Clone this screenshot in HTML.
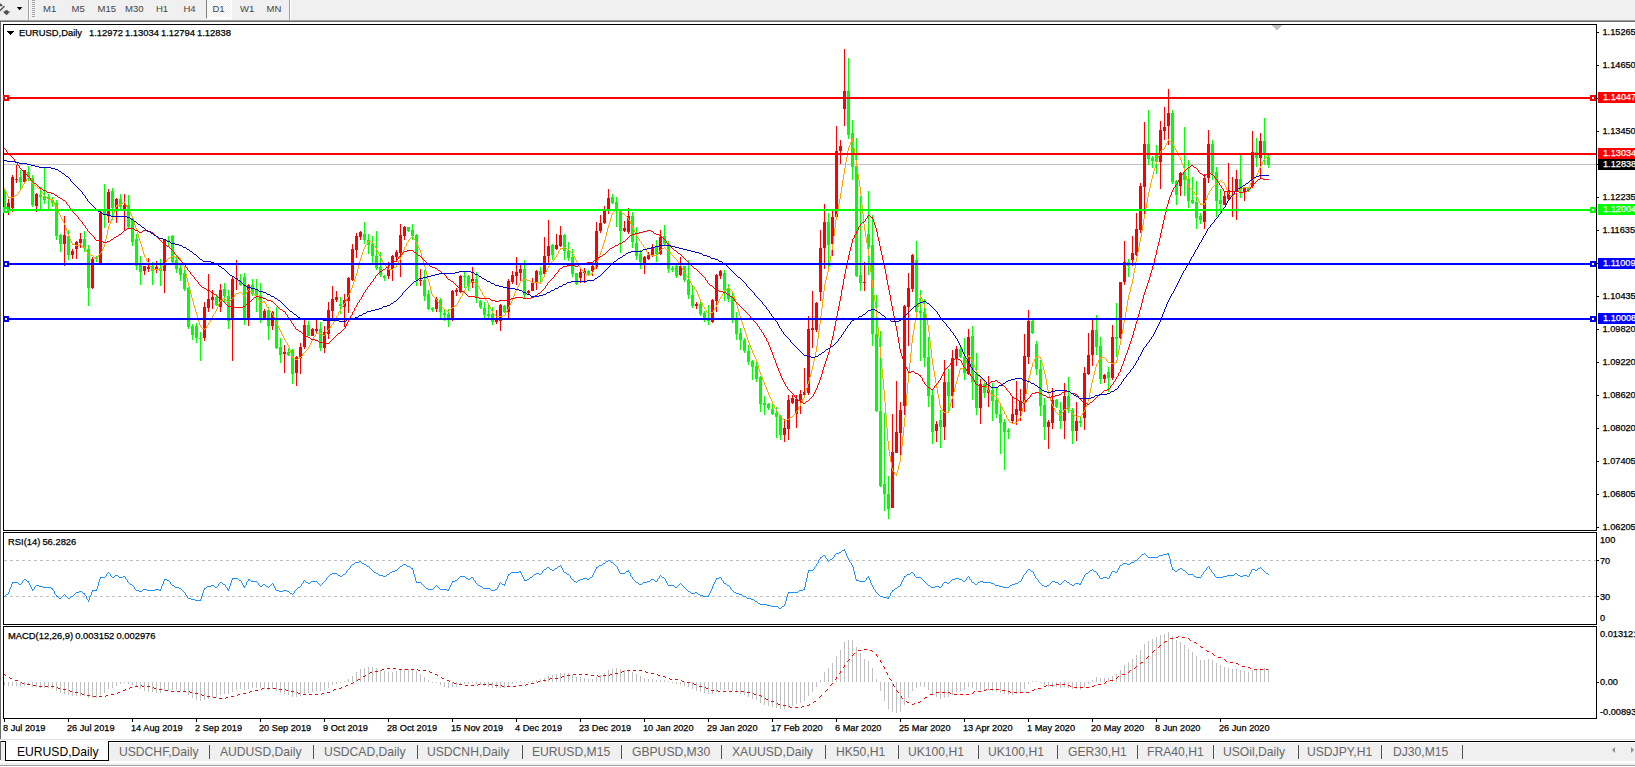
<!DOCTYPE html>
<html><head><meta charset="utf-8"><title>EURUSD,Daily</title>
<style>
html,body{margin:0;padding:0;background:#fff;}
body{width:1635px;height:767px;position:relative;overflow:hidden;font-family:"Liberation Sans","DejaVu Sans",sans-serif;}
#tbar{position:absolute;left:0;top:0;width:1635px;height:20px;background:#f0f0f0;border-bottom:1px solid #a0a0a0;}
#tbar2{position:absolute;left:0;top:21px;width:1635px;height:1px;background:#696969;}
#lb{position:absolute;left:0;top:22px;width:1px;height:717px;background:#696969;}
.tf{position:absolute;top:1.6px;font-size:9.5px;line-height:13px;color:#444;white-space:nowrap;}
#d1{position:absolute;left:206px;top:0;width:24px;height:18px;background:repeating-conic-gradient(#fff 0 25%,#f0f0f0 0 50%) 0 0/2px 2px;border-left:1px solid #808080;border-right:1px solid #fff;border-bottom:1px solid #fff;}
.vs{position:absolute;top:0;width:1px;height:20px;background:#a0a0a0;border-right:1px solid #fff;}
#grip{position:absolute;left:32px;top:0;width:3px;height:17px;background:repeating-linear-gradient(#a0a0a0 0 1px,#fafafa 1px 2px);}
svg{position:absolute;left:0;top:0;}
.ax,.bx{position:absolute;left:1602.5px;-webkit-text-stroke:0.25px currentColor;font-size:9.2px;line-height:14px;height:14px;white-space:nowrap;color:#000;}
.bx{left:1598px;width:37px;padding-left:5px;box-sizing:border-box;height:11px;line-height:11px;overflow:hidden;}
.dt{position:absolute;top:722px;-webkit-text-stroke:0.25px #000;font-size:9.2px;line-height:13px;white-space:nowrap;color:#000;}
.ct{position:absolute;word-spacing:-0.5px;-webkit-text-stroke:0.25px #000;font-size:9.4px;line-height:13px;white-space:nowrap;color:#000;}
#tabs{position:absolute;left:0;top:741px;width:1635px;height:20px;background:#f0f0f0;border-top:1px solid #000;box-sizing:border-box;box-shadow:inset 0 1px 0 #fff;}
#tabline{position:absolute;left:0;top:739px;width:1635px;height:1px;background:#e0e0e0;}
#botline{position:absolute;left:0;top:765px;width:1635px;height:1px;background:#a0a0a0;}
#bot{position:absolute;left:0;top:763px;width:1635px;height:2px;background:#f0f0f0;}
#lb2{position:absolute;left:0;top:741px;width:1px;height:19px;background:#696969;}
#atab{position:absolute;left:5px;top:-1px;width:104px;height:20px;background:#fff;border:1px solid #000;border-top:none;box-sizing:border-box;}
.tb{position:absolute;top:1.5px;font-size:12.8px;transform:scaleX(0.948);transform-origin:0 0;line-height:15px;color:#666;white-space:nowrap;}
#atab span{position:absolute;left:11px;top:2.5px;font-size:12.8px;transform:scaleX(0.948);transform-origin:0 0;line-height:15px;color:#000;white-space:nowrap;}
.sp{position:absolute;top:3px;width:1px;height:14px;background:#555;}
.ar{position:absolute;top:5px;width:0;height:0;border:3px solid transparent;}
</style></head><body>
<div id="tbar"><div class="vs" style="left:28px"></div><div id="grip"></div><div id="d1"></div><span class="tf" style="left:43px">M1</span><span class="tf" style="left:71.5px">M5</span><span class="tf" style="left:97.5px">M15</span><span class="tf" style="left:125px">M30</span><span class="tf" style="left:156px">H1</span><span class="tf" style="left:183.5px">H4</span><span class="tf" style="left:212.5px">D1</span><span class="tf" style="left:240px">W1</span><span class="tf" style="left:266.5px">MN</span><div class="vs" style="left:289px"></div>
<svg width="28" height="20" viewBox="0 0 28 20"><path d="M-1 11.5L4.5 6.3" stroke="#505050" stroke-width="1.4" fill="none"/><path d="M0 3.2L2.9 5.3L1.4 6.5L0 6z" fill="#505050"/><path d="M5.3 10.2h2.4l.6 1.2h2l-3.8 3.8l-3.8 -3.8h2z" fill="#505050"/><path d="M16.8 7h5.6l-2.8 3.2z" fill="#000"/></svg></div>
<div id="tbar2"></div><div id="lb"></div>
<svg width="1635" height="767" viewBox="0 0 1635 767" shape-rendering="crispEdges">
<rect x="4" y="164" width="1592" height="1" fill="#c0c0c0"/>
<g><path fill="#00ff00" d="M4 189h1v22h-1zM4 192h2v17h-2z"/><path fill="#ff0000" d="M8 199h1v16h-1zM7 203h3v6h-3z"/><path fill="#ff0000" d="M12 175h1v37h-1zM11 177h3v31h-3z"/><path fill="#ff0000" d="M16 165h1v18h-1zM15 179h3v1h-3z"/><path fill="#00ff00" d="M20 170h1v19h-1zM19 177h3v5h-3z"/><path fill="#ff0000" d="M24 170h1v13h-1zM23 170h3v12h-3z"/><path fill="#00ff00" d="M28 166h1v15h-1zM27 172h3v5h-3z"/><path fill="#00ff00" d="M32 175h1v32h-1zM31 178h3v27h-3z"/><path fill="#ff0000" d="M36 193h1v19h-1zM35 194h3v12h-3z"/><path fill="#00ff00" d="M40 187h1v22h-1zM39 195h3v2h-3z"/><path fill="#00ff00" d="M44 167h1v37h-1zM43 196h3v4h-3z"/><path fill="#00ff00" d="M48 194h1v15h-1zM47 197h3v2h-3z"/><path fill="#00ff00" d="M52 197h1v10h-1zM51 200h3v3h-3z"/><path fill="#00ff00" d="M56 200h1v40h-1zM55 203h3v33h-3z"/><path fill="#00ff00" d="M60 234h1v18h-1zM59 235h3v9h-3z"/><path fill="#ff0000" d="M64 216h1v50h-1zM63 235h3v9h-3z"/><path fill="#00ff00" d="M68 230h1v30h-1zM67 236h3v19h-3z"/><path fill="#ff0000" d="M72 249h1v10h-1zM71 251h3v4h-3z"/><path fill="#ff0000" d="M76 241h1v18h-1zM75 242h3v7h-3z"/><path fill="#ff0000" d="M80 233h1v15h-1zM79 239h3v4h-3z"/><path fill="#00ff00" d="M84 231h1v21h-1zM83 239h3v9h-3z"/><path fill="#00ff00" d="M88 245h1v61h-1zM87 249h3v39h-3z"/><path fill="#ff0000" d="M92 257h1v32h-1zM91 259h3v29h-3z"/><path fill="#00ff00" d="M96 256h1v6h-1zM95 257h3v2h-3z"/><path fill="#ff0000" d="M100 211h1v53h-1zM99 213h3v51h-3z"/><path fill="#00ff00" d="M104 184h1v44h-1zM103 209h3v5h-3z"/><path fill="#ff0000" d="M108 189h1v34h-1zM107 192h3v24h-3z"/><path fill="#00ff00" d="M112 188h1v32h-1zM111 191h3v17h-3z"/><path fill="#ff0000" d="M116 198h1v25h-1zM115 199h3v10h-3z"/><path fill="#00ff00" d="M120 194h1v15h-1zM119 199h3v8h-3z"/><path fill="#ff0000" d="M124 194h1v36h-1zM123 205h3v4h-3z"/><path fill="#00ff00" d="M128 195h1v33h-1zM127 205h3v22h-3z"/><path fill="#00ff00" d="M132 216h1v30h-1zM131 218h3v24h-3z"/><path fill="#00ff00" d="M136 234h1v36h-1zM135 239h3v27h-3z"/><path fill="#00ff00" d="M140 256h1v29h-1zM139 264h3v8h-3z"/><path fill="#ff0000" d="M144 266h1v9h-1zM143 266h3v5h-3z"/><path fill="#ff0000" d="M148 258h1v14h-1zM147 267h3v2h-3z"/><path fill="#00ff00" d="M152 262h1v23h-1zM151 266h3v5h-3z"/><path fill="#ff0000" d="M156 261h1v12h-1zM155 267h3v3h-3z"/><path fill="#00ff00" d="M160 259h1v27h-1zM159 268h3v3h-3z"/><path fill="#ff0000" d="M164 239h1v54h-1zM163 240h3v31h-3z"/><path fill="#00ff00" d="M168 236h1v11h-1zM167 240h3v2h-3z"/><path fill="#00ff00" d="M172 235h1v29h-1zM171 236h3v26h-3z"/><path fill="#00ff00" d="M176 256h1v17h-1zM175 260h3v9h-3z"/><path fill="#00ff00" d="M180 264h1v17h-1zM179 268h3v7h-3z"/><path fill="#00ff00" d="M184 266h1v25h-1zM183 273h3v16h-3z"/><path fill="#00ff00" d="M188 287h1v42h-1zM187 288h3v39h-3z"/><path fill="#00ff00" d="M192 324h1v16h-1zM191 326h3v9h-3z"/><path fill="#00ff00" d="M196 323h1v20h-1zM195 326h3v12h-3z"/><path fill="#00ff00" d="M200 332h1v29h-1zM199 338h3v1h-3z"/><path fill="#ff0000" d="M204 302h1v39h-1zM203 307h3v31h-3z"/><path fill="#ff0000" d="M208 274h1v38h-1zM207 299h3v9h-3z"/><path fill="#ff0000" d="M212 290h1v19h-1zM211 297h3v3h-3z"/><path fill="#00ff00" d="M216 294h1v12h-1zM215 297h3v8h-3z"/><path fill="#ff0000" d="M220 284h1v28h-1zM219 290h3v17h-3z"/><path fill="#00ff00" d="M224 283h1v19h-1zM223 289h3v7h-3z"/><path fill="#00ff00" d="M228 290h1v39h-1zM227 296h3v25h-3z"/><path fill="#ff0000" d="M232 277h1v84h-1zM231 279h3v41h-3z"/><path fill="#ff0000" d="M236 260h1v30h-1zM235 278h3v1h-3z"/><path fill="#00ff00" d="M240 274h1v12h-1zM239 281h3v4h-3z"/><path fill="#00ff00" d="M244 273h1v52h-1zM243 277h3v41h-3z"/><path fill="#ff0000" d="M248 284h1v42h-1zM247 285h3v33h-3z"/><path fill="#00ff00" d="M252 279h1v17h-1zM251 285h3v9h-3z"/><path fill="#00ff00" d="M256 279h1v33h-1zM255 290h3v6h-3z"/><path fill="#00ff00" d="M260 283h1v40h-1zM259 295h3v23h-3z"/><path fill="#ff0000" d="M264 309h1v10h-1zM263 311h3v7h-3z"/><path fill="#00ff00" d="M268 307h1v33h-1zM267 310h3v16h-3z"/><path fill="#ff0000" d="M272 311h1v19h-1zM271 312h3v14h-3z"/><path fill="#00ff00" d="M276 307h1v42h-1zM275 321h3v27h-3z"/><path fill="#00ff00" d="M280 338h1v25h-1zM279 347h3v8h-3z"/><path fill="#ff0000" d="M284 345h1v28h-1zM283 352h3v2h-3z"/><path fill="#00ff00" d="M288 348h1v8h-1zM287 352h3v3h-3z"/><path fill="#00ff00" d="M292 349h1v35h-1zM291 350h3v24h-3z"/><path fill="#ff0000" d="M296 356h1v30h-1zM295 357h3v16h-3z"/><path fill="#ff0000" d="M300 343h1v31h-1zM299 347h3v11h-3z"/><path fill="#ff0000" d="M304 320h1v29h-1zM303 325h3v22h-3z"/><path fill="#00ff00" d="M308 321h1v15h-1zM307 325h3v11h-3z"/><path fill="#ff0000" d="M312 328h1v8h-1zM311 329h3v7h-3z"/><path fill="#ff0000" d="M316 320h1v13h-1zM315 329h3v2h-3z"/><path fill="#00ff00" d="M320 322h1v29h-1zM319 329h3v19h-3z"/><path fill="#ff0000" d="M324 326h1v27h-1zM323 332h3v16h-3z"/><path fill="#ff0000" d="M328 302h1v37h-1zM327 310h3v24h-3z"/><path fill="#ff0000" d="M332 286h1v32h-1zM331 299h3v12h-3z"/><path fill="#ff0000" d="M336 291h1v11h-1zM335 297h3v3h-3z"/><path fill="#00ff00" d="M340 297h1v17h-1zM339 304h3v2h-3z"/><path fill="#ff0000" d="M344 294h1v33h-1zM343 300h3v7h-3z"/><path fill="#ff0000" d="M348 277h1v36h-1zM347 278h3v23h-3z"/><path fill="#ff0000" d="M352 244h1v37h-1zM351 249h3v31h-3z"/><path fill="#ff0000" d="M356 233h1v25h-1zM355 236h3v14h-3z"/><path fill="#ff0000" d="M360 231h1v9h-1zM359 232h3v5h-3z"/><path fill="#00ff00" d="M364 222h1v22h-1zM363 234h3v6h-3z"/><path fill="#00ff00" d="M368 234h1v20h-1zM367 240h3v5h-3z"/><path fill="#00ff00" d="M372 236h1v27h-1zM371 244h3v12h-3z"/><path fill="#00ff00" d="M376 231h1v39h-1zM375 256h3v12h-3z"/><path fill="#00ff00" d="M380 252h1v25h-1zM379 267h3v8h-3z"/><path fill="#00ff00" d="M384 275h1v6h-1zM383 276h3v2h-3z"/><path fill="#ff0000" d="M388 262h1v17h-1zM387 269h3v7h-3z"/><path fill="#ff0000" d="M392 255h1v26h-1zM391 256h3v13h-3z"/><path fill="#ff0000" d="M396 250h1v12h-1zM395 252h3v5h-3z"/><path fill="#ff0000" d="M400 224h1v53h-1zM399 235h3v18h-3z"/><path fill="#ff0000" d="M404 226h1v14h-1zM403 227h3v9h-3z"/><path fill="#00ff00" d="M408 227h1v5h-1zM407 227h3v4h-3z"/><path fill="#00ff00" d="M412 224h1v16h-1zM411 230h3v6h-3z"/><path fill="#00ff00" d="M416 234h1v52h-1zM415 235h3v45h-3z"/><path fill="#ff0000" d="M420 269h1v17h-1zM419 280h3v1h-3z"/><path fill="#00ff00" d="M424 270h1v31h-1zM423 280h3v16h-3z"/><path fill="#00ff00" d="M428 290h1v20h-1zM427 294h3v15h-3z"/><path fill="#00ff00" d="M432 307h1v5h-1zM431 308h3v2h-3z"/><path fill="#ff0000" d="M436 297h1v15h-1zM435 299h3v10h-3z"/><path fill="#00ff00" d="M440 298h1v20h-1zM439 300h3v12h-3z"/><path fill="#00ff00" d="M444 309h1v12h-1zM443 313h3v2h-3z"/><path fill="#00ff00" d="M448 309h1v18h-1zM447 314h3v4h-3z"/><path fill="#ff0000" d="M452 290h1v31h-1zM451 291h3v27h-3z"/><path fill="#ff0000" d="M456 288h1v8h-1zM455 290h3v2h-3z"/><path fill="#ff0000" d="M460 275h1v18h-1zM459 276h3v16h-3z"/><path fill="#00ff00" d="M464 272h1v16h-1zM463 276h3v1h-3z"/><path fill="#00ff00" d="M468 275h1v16h-1zM467 276h3v10h-3z"/><path fill="#ff0000" d="M472 267h1v21h-1zM471 279h3v4h-3z"/><path fill="#00ff00" d="M476 272h1v31h-1zM475 279h3v19h-3z"/><path fill="#00ff00" d="M480 300h1v9h-1zM479 301h3v6h-3z"/><path fill="#00ff00" d="M484 302h1v16h-1zM483 308h3v7h-3z"/><path fill="#00ff00" d="M488 303h1v15h-1zM487 314h3v2h-3z"/><path fill="#00ff00" d="M492 307h1v18h-1zM491 314h3v8h-3z"/><path fill="#ff0000" d="M496 310h1v14h-1zM495 320h3v2h-3z"/><path fill="#ff0000" d="M500 304h1v27h-1zM499 305h3v16h-3z"/><path fill="#00ff00" d="M504 305h1v8h-1zM503 306h3v6h-3z"/><path fill="#ff0000" d="M508 279h1v39h-1zM507 281h3v31h-3z"/><path fill="#ff0000" d="M512 271h1v13h-1zM511 275h3v7h-3z"/><path fill="#ff0000" d="M516 257h1v28h-1zM515 272h3v4h-3z"/><path fill="#ff0000" d="M520 265h1v16h-1zM519 269h3v4h-3z"/><path fill="#00ff00" d="M524 260h1v38h-1zM523 269h3v26h-3z"/><path fill="#ff0000" d="M528 290h1v4h-1zM527 291h3v2h-3z"/><path fill="#ff0000" d="M532 278h1v13h-1zM531 282h3v9h-3z"/><path fill="#ff0000" d="M536 270h1v20h-1zM535 271h3v11h-3z"/><path fill="#00ff00" d="M540 267h1v16h-1zM539 271h3v4h-3z"/><path fill="#ff0000" d="M544 237h1v38h-1zM543 256h3v18h-3z"/><path fill="#ff0000" d="M548 220h1v43h-1zM547 246h3v10h-3z"/><path fill="#00ff00" d="M552 244h1v16h-1zM551 245h3v10h-3z"/><path fill="#ff0000" d="M556 234h1v16h-1zM555 245h3v4h-3z"/><path fill="#ff0000" d="M560 226h1v21h-1zM559 235h3v11h-3z"/><path fill="#00ff00" d="M564 234h1v26h-1zM563 235h3v16h-3z"/><path fill="#00ff00" d="M568 242h1v19h-1zM567 251h3v7h-3z"/><path fill="#00ff00" d="M572 249h1v28h-1zM571 257h3v17h-3z"/><path fill="#00ff00" d="M576 273h1v12h-1zM575 273h3v11h-3z"/><path fill="#ff0000" d="M580 267h1v16h-1zM579 272h3v6h-3z"/><path fill="#ff0000" d="M584 268h1v15h-1zM583 271h3v2h-3z"/><path fill="#00ff00" d="M588 270h1v6h-1zM587 271h3v3h-3z"/><path fill="#ff0000" d="M592 265h1v11h-1zM591 266h3v5h-3z"/><path fill="#ff0000" d="M596 222h1v47h-1zM595 231h3v36h-3z"/><path fill="#ff0000" d="M600 215h1v18h-1zM599 223h3v8h-3z"/><path fill="#ff0000" d="M604 206h1v18h-1zM603 211h3v12h-3z"/><path fill="#ff0000" d="M608 189h1v25h-1zM607 198h3v12h-3z"/><path fill="#00ff00" d="M612 194h1v10h-1zM611 197h3v6h-3z"/><path fill="#00ff00" d="M616 197h1v30h-1zM615 202h3v9h-3z"/><path fill="#00ff00" d="M620 209h1v44h-1zM619 211h3v20h-3z"/><path fill="#ff0000" d="M624 221h1v11h-1zM623 228h3v3h-3z"/><path fill="#ff0000" d="M628 208h1v26h-1zM627 216h3v16h-3z"/><path fill="#00ff00" d="M632 212h1v36h-1zM631 216h3v26h-3z"/><path fill="#00ff00" d="M636 227h1v33h-1zM635 243h3v13h-3z"/><path fill="#00ff00" d="M640 250h1v19h-1zM639 254h3v8h-3z"/><path fill="#ff0000" d="M644 256h1v18h-1zM643 257h3v6h-3z"/><path fill="#ff0000" d="M648 252h1v8h-1zM647 255h3v4h-3z"/><path fill="#ff0000" d="M652 244h1v13h-1zM651 247h3v9h-3z"/><path fill="#00ff00" d="M656 240h1v22h-1zM655 246h3v8h-3z"/><path fill="#ff0000" d="M660 230h1v25h-1zM659 237h3v17h-3z"/><path fill="#00ff00" d="M664 225h1v20h-1zM663 236h3v8h-3z"/><path fill="#00ff00" d="M668 241h1v32h-1zM667 244h3v25h-3z"/><path fill="#00ff00" d="M672 266h1v6h-1zM671 268h3v2h-3z"/><path fill="#00ff00" d="M676 264h1v14h-1zM675 266h3v10h-3z"/><path fill="#ff0000" d="M680 257h1v19h-1zM679 266h3v9h-3z"/><path fill="#00ff00" d="M684 266h1v16h-1zM683 266h3v14h-3z"/><path fill="#00ff00" d="M688 260h1v39h-1zM687 280h3v15h-3z"/><path fill="#00ff00" d="M692 285h1v23h-1zM691 295h3v11h-3z"/><path fill="#ff0000" d="M696 302h1v7h-1zM695 304h3v2h-3z"/><path fill="#00ff00" d="M700 300h1v16h-1zM699 304h3v10h-3z"/><path fill="#00ff00" d="M704 311h1v11h-1zM703 313h3v7h-3z"/><path fill="#00ff00" d="M708 305h1v20h-1zM707 318h3v3h-3z"/><path fill="#ff0000" d="M712 299h1v24h-1zM711 300h3v22h-3z"/><path fill="#ff0000" d="M716 274h1v38h-1zM715 275h3v26h-3z"/><path fill="#ff0000" d="M720 270h1v9h-1zM719 271h3v5h-3z"/><path fill="#00ff00" d="M724 270h1v31h-1zM723 273h3v17h-3z"/><path fill="#00ff00" d="M728 284h1v18h-1zM727 288h3v11h-3z"/><path fill="#00ff00" d="M732 292h1v31h-1zM731 297h3v22h-3z"/><path fill="#00ff00" d="M736 312h1v28h-1zM735 318h3v16h-3z"/><path fill="#00ff00" d="M740 328h1v22h-1zM739 333h3v7h-3z"/><path fill="#00ff00" d="M744 338h1v15h-1zM743 340h3v11h-3z"/><path fill="#00ff00" d="M748 345h1v20h-1zM747 351h3v11h-3z"/><path fill="#00ff00" d="M752 360h1v20h-1zM751 361h3v6h-3z"/><path fill="#00ff00" d="M756 360h1v22h-1zM755 366h3v13h-3z"/><path fill="#00ff00" d="M760 376h1v36h-1zM759 377h3v27h-3z"/><path fill="#00ff00" d="M764 396h1v19h-1zM763 403h3v2h-3z"/><path fill="#00ff00" d="M768 403h1v7h-1zM767 404h3v4h-3z"/><path fill="#00ff00" d="M772 403h1v12h-1zM771 409h3v5h-3z"/><path fill="#00ff00" d="M776 407h1v31h-1zM775 413h3v4h-3z"/><path fill="#00ff00" d="M780 415h1v25h-1zM779 416h3v19h-3z"/><path fill="#ff0000" d="M784 419h1v23h-1zM783 428h3v7h-3z"/><path fill="#ff0000" d="M788 395h1v45h-1zM787 400h3v29h-3z"/><path fill="#ff0000" d="M792 395h1v9h-1zM791 398h3v5h-3z"/><path fill="#ff0000" d="M796 395h1v33h-1zM795 399h3v15h-3z"/><path fill="#ff0000" d="M800 390h1v24h-1zM799 394h3v6h-3z"/><path fill="#ff0000" d="M804 368h1v29h-1zM803 392h3v3h-3z"/><path fill="#ff0000" d="M808 316h1v79h-1zM807 329h3v64h-3z"/><path fill="#ff0000" d="M812 291h1v57h-1zM811 328h3v2h-3z"/><path fill="#ff0000" d="M816 302h1v30h-1zM815 303h3v27h-3z"/><path fill="#ff0000" d="M820 230h1v71h-1zM819 248h3v44h-3z"/><path fill="#ff0000" d="M824 204h1v65h-1zM823 222h3v26h-3z"/><path fill="#00ff00" d="M828 213h1v54h-1zM827 222h3v23h-3z"/><path fill="#ff0000" d="M832 211h1v45h-1zM831 217h3v27h-3z"/><path fill="#ff0000" d="M836 126h1v92h-1zM835 151h3v66h-3z"/><path fill="#ff0000" d="M840 140h1v24h-1zM839 146h3v5h-3z"/><path fill="#ff0000" d="M844 49h1v77h-1zM843 91h3v18h-3z"/><path fill="#00ff00" d="M848 58h1v81h-1zM847 91h3v44h-3z"/><path fill="#00ff00" d="M852 120h1v60h-1zM851 133h3v34h-3z"/><path fill="#00ff00" d="M856 138h1v139h-1zM855 166h3v110h-3z"/><path fill="#00ff00" d="M860 196h1v95h-1zM859 275h3v8h-3z"/><path fill="#ff0000" d="M864 262h1v29h-1zM863 282h3v1h-3z"/><path fill="#00ff00" d="M868 191h1v84h-1zM867 234h3v13h-3z"/><path fill="#00ff00" d="M872 215h1v131h-1zM871 245h3v89h-3z"/><path fill="#00ff00" d="M876 295h1v117h-1zM875 334h3v77h-3z"/><path fill="#00ff00" d="M880 331h1v156h-1zM879 411h3v75h-3z"/><path fill="#00ff00" d="M884 413h1v98h-1zM883 484h3v10h-3z"/><path fill="#00ff00" d="M888 476h1v43h-1zM887 494h3v15h-3z"/><path fill="#ff0000" d="M892 414h1v94h-1zM891 452h3v56h-3z"/><path fill="#ff0000" d="M896 381h1v72h-1zM895 432h3v21h-3z"/><path fill="#ff0000" d="M900 402h1v53h-1zM899 410h3v23h-3z"/><path fill="#ff0000" d="M904 305h1v110h-1zM903 306h3v100h-3z"/><path fill="#ff0000" d="M908 273h1v73h-1zM907 288h3v19h-3z"/><path fill="#ff0000" d="M912 254h1v38h-1zM911 255h3v34h-3z"/><path fill="#00ff00" d="M916 241h1v71h-1zM915 260h3v52h-3z"/><path fill="#00ff00" d="M920 290h1v71h-1zM919 311h3v2h-3z"/><path fill="#00ff00" d="M924 299h1v68h-1zM923 312h3v46h-3z"/><path fill="#00ff00" d="M928 337h1v70h-1zM927 357h3v39h-3z"/><path fill="#00ff00" d="M932 390h1v54h-1zM931 395h3v37h-3z"/><path fill="#ff0000" d="M936 421h1v21h-1zM935 424h3v7h-3z"/><path fill="#00ff00" d="M940 410h1v38h-1zM939 420h3v7h-3z"/><path fill="#ff0000" d="M944 360h1v80h-1zM943 382h3v45h-3z"/><path fill="#00ff00" d="M948 369h1v44h-1zM947 382h3v14h-3z"/><path fill="#ff0000" d="M952 350h1v58h-1zM951 358h3v38h-3z"/><path fill="#ff0000" d="M956 346h1v20h-1zM955 349h3v9h-3z"/><path fill="#00ff00" d="M960 347h1v11h-1zM959 349h3v8h-3z"/><path fill="#00ff00" d="M964 338h1v42h-1zM963 357h3v16h-3z"/><path fill="#ff0000" d="M968 329h1v46h-1zM967 337h3v37h-3z"/><path fill="#00ff00" d="M972 326h1v74h-1zM971 336h3v46h-3z"/><path fill="#00ff00" d="M976 353h1v62h-1zM975 374h3v34h-3z"/><path fill="#ff0000" d="M980 379h1v45h-1zM979 384h3v24h-3z"/><path fill="#00ff00" d="M984 380h1v18h-1zM983 384h3v9h-3z"/><path fill="#ff0000" d="M988 376h1v31h-1zM987 390h3v3h-3z"/><path fill="#00ff00" d="M992 383h1v38h-1zM991 390h3v11h-3z"/><path fill="#00ff00" d="M996 388h1v30h-1zM995 400h3v14h-3z"/><path fill="#00ff00" d="M1000 405h1v49h-1zM999 414h3v9h-3z"/><path fill="#00ff00" d="M1004 419h1v51h-1zM1003 422h3v10h-3z"/><path fill="#00ff00" d="M1008 428h1v11h-1zM1007 430h3v2h-3z"/><path fill="#ff0000" d="M1012 397h1v27h-1zM1011 414h3v7h-3z"/><path fill="#ff0000" d="M1016 381h1v44h-1zM1015 409h3v6h-3z"/><path fill="#ff0000" d="M1020 389h1v32h-1zM1019 401h3v10h-3z"/><path fill="#ff0000" d="M1024 334h1v78h-1zM1023 356h3v46h-3z"/><path fill="#ff0000" d="M1028 310h1v54h-1zM1027 321h3v36h-3z"/><path fill="#00ff00" d="M1032 320h1v14h-1zM1031 321h3v12h-3z"/><path fill="#00ff00" d="M1036 341h1v34h-1zM1035 344h3v25h-3z"/><path fill="#00ff00" d="M1040 360h1v56h-1zM1039 369h3v37h-3z"/><path fill="#00ff00" d="M1044 398h1v42h-1zM1043 405h3v22h-3z"/><path fill="#ff0000" d="M1048 420h1v29h-1zM1047 422h3v5h-3z"/><path fill="#ff0000" d="M1052 388h1v41h-1zM1051 400h3v23h-3z"/><path fill="#00ff00" d="M1056 399h1v9h-1zM1055 400h3v7h-3z"/><path fill="#00ff00" d="M1060 402h1v27h-1zM1059 410h3v11h-3z"/><path fill="#ff0000" d="M1064 383h1v56h-1zM1063 396h3v25h-3z"/><path fill="#00ff00" d="M1068 377h1v36h-1zM1067 396h3v14h-3z"/><path fill="#00ff00" d="M1072 408h1v36h-1zM1071 410h3v21h-3z"/><path fill="#ff0000" d="M1076 402h1v39h-1zM1075 421h3v10h-3z"/><path fill="#00ff00" d="M1080 417h1v10h-1zM1079 421h3v2h-3z"/><path fill="#ff0000" d="M1084 367h1v63h-1zM1083 373h3v45h-3z"/><path fill="#ff0000" d="M1088 333h1v42h-1zM1087 355h3v19h-3z"/><path fill="#ff0000" d="M1092 319h1v47h-1zM1091 330h3v25h-3z"/><path fill="#00ff00" d="M1096 315h1v40h-1zM1095 330h3v17h-3z"/><path fill="#00ff00" d="M1100 337h1v47h-1zM1099 346h3v33h-3z"/><path fill="#ff0000" d="M1104 374h1v9h-1zM1103 375h3v4h-3z"/><path fill="#00ff00" d="M1108 367h1v25h-1zM1107 372h3v6h-3z"/><path fill="#ff0000" d="M1112 325h1v55h-1zM1111 337h3v41h-3z"/><path fill="#00ff00" d="M1116 303h1v54h-1zM1115 337h3v2h-3z"/><path fill="#ff0000" d="M1120 282h1v57h-1zM1119 282h3v56h-3z"/><path fill="#ff0000" d="M1124 241h1v44h-1zM1123 262h3v20h-3z"/><path fill="#00ff00" d="M1128 259h1v18h-1zM1127 262h3v4h-3z"/><path fill="#ff0000" d="M1132 236h1v30h-1zM1131 253h3v7h-3z"/><path fill="#ff0000" d="M1136 213h1v43h-1zM1135 229h3v26h-3z"/><path fill="#ff0000" d="M1140 183h1v50h-1zM1139 186h3v44h-3z"/><path fill="#ff0000" d="M1144 122h1v92h-1zM1143 144h3v43h-3z"/><path fill="#00ff00" d="M1148 110h1v55h-1zM1147 144h3v15h-3z"/><path fill="#00ff00" d="M1152 156h1v12h-1zM1151 158h3v3h-3z"/><path fill="#00ff00" d="M1156 145h1v29h-1zM1155 155h3v7h-3z"/><path fill="#ff0000" d="M1160 121h1v68h-1zM1159 130h3v32h-3z"/><path fill="#ff0000" d="M1164 107h1v33h-1zM1163 127h3v4h-3z"/><path fill="#ff0000" d="M1168 89h1v56h-1zM1167 113h3v13h-3z"/><path fill="#00ff00" d="M1172 110h1v74h-1zM1171 113h3v69h-3z"/><path fill="#00ff00" d="M1176 180h1v25h-1zM1175 181h3v14h-3z"/><path fill="#ff0000" d="M1180 172h1v24h-1zM1179 173h3v13h-3z"/><path fill="#00ff00" d="M1184 127h1v69h-1zM1183 174h3v6h-3z"/><path fill="#00ff00" d="M1188 160h1v48h-1zM1187 179h3v22h-3z"/><path fill="#00ff00" d="M1192 177h1v27h-1zM1191 200h3v3h-3z"/><path fill="#00ff00" d="M1196 181h1v48h-1zM1195 202h3v16h-3z"/><path fill="#00ff00" d="M1200 213h1v11h-1zM1199 216h3v4h-3z"/><path fill="#ff0000" d="M1204 174h1v55h-1zM1203 178h3v44h-3z"/><path fill="#ff0000" d="M1208 130h1v53h-1zM1207 144h3v34h-3z"/><path fill="#00ff00" d="M1212 140h1v40h-1zM1211 144h3v29h-3z"/><path fill="#00ff00" d="M1216 167h1v50h-1zM1215 172h3v29h-3z"/><path fill="#00ff00" d="M1220 189h1v25h-1zM1219 200h3v4h-3z"/><path fill="#ff0000" d="M1224 191h1v14h-1zM1223 196h3v9h-3z"/><path fill="#ff0000" d="M1228 163h1v37h-1zM1227 190h3v9h-3z"/><path fill="#ff0000" d="M1232 177h1v40h-1zM1231 191h3v1h-3z"/><path fill="#ff0000" d="M1236 170h1v50h-1zM1235 179h3v13h-3z"/><path fill="#00ff00" d="M1240 155h1v43h-1zM1239 179h3v11h-3z"/><path fill="#ff0000" d="M1244 187h1v14h-1zM1243 188h3v4h-3z"/><path fill="#00ff00" d="M1248 187h1v5h-1zM1247 188h3v2h-3z"/><path fill="#ff0000" d="M1252 131h1v57h-1zM1251 152h3v34h-3z"/><path fill="#00ff00" d="M1256 138h1v29h-1zM1255 152h3v6h-3z"/><path fill="#ff0000" d="M1260 133h1v45h-1zM1259 141h3v17h-3z"/><path fill="#00ff00" d="M1264 118h1v47h-1zM1263 141h3v14h-3z"/><path fill="#00ff00" d="M1268 155h1v13h-1zM1267 157h3v8h-3z"/></g>
<g shape-rendering="crispEdges">
<path fill="#ffa500" d="M202 328h2v1h-2zM447 311h2v1h-2zM250 291h2v1h-2zM851 140h2v1h-2zM1168 140h2v1h-2zM708 313h3v1h-3zM48 199h5v1h-5zM82 246h2v1h-2zM944 412h5v1h-5zM1108 362h3v1h-3zM1115 362h2v1h-2zM116 205h3v1h-3zM622 213h2v1h-2zM563 247h3v1h-3zM91 255h2v1h-2zM651 255h6v1h-6zM524 279h3v1h-3zM220 300h2v1h-2zM38 188h2v1h-2zM323 335h2v1h-2zM72 244h3v1h-3zM79 244h2v1h-2zM1067 407h2v1h-2zM168 258h2v1h-2zM179 258h2v1h-2zM75 245h4v1h-4zM787 419h2v1h-2zM496 316h7v1h-7zM920 297h2v1h-2zM94 257h2v1h-2zM175 257h4v1h-4zM295 359h3v1h-3zM472 281h2v1h-2zM560 248h3v1h-3zM662 248h2v1h-2zM236 293h3v1h-3zM470 282h2v1h-2zM531 282h8v1h-8zM1240 189h2v1h-2zM995 396h2v1h-2zM591 273h2v1h-2zM444 309h2v1h-2zM475 283h2v1h-2zM539 283h2v1h-2zM88 254h3v1h-3zM648 254h3v1h-3zM371 242h2v1h-2zM239 292h2v1h-2zM1218 181h2v1h-2zM452 307h2v1h-2zM1012 423h3v1h-3zM1074 415h2v1h-2zM992 395h3v1h-3zM455 305h2v1h-2zM1238 190h2v1h-2zM1058 414h2v1h-2zM223 298h2v1h-2zM790 417h2v1h-2zM368 241h3v1h-3zM260 302h3v1h-3zM254 294h2v1h-2zM968 356h2v1h-2zM1036 356h3v1h-3zM1076 416h5v1h-5zM784 420h3v1h-3zM586 274h2v1h-2zM292 357h2v1h-2zM299 357h2v1h-2zM1039 357h2v1h-2zM1100 357h5v1h-5zM503 315h2v1h-2zM960 368h3v1h-3zM8 197h6v1h-6zM34 185h2v1h-2zM1243 187h6v1h-6zM522 280h2v1h-2zM527 280h3v1h-3zM567 249h2v1h-2zM666 249h2v1h-2zM152 269h9v1h-9zM388 269h5v1h-5zM263 301h2v1h-2zM711 312h2v1h-2zM171 256h4v1h-4zM316 333h6v1h-6zM588 275h2v1h-2zM123 202h2v1h-2zM619 211h2v1h-2zM1064 409h2v1h-2zM394 267h2v1h-2zM1111 363h4v1h-4zM15 195h2v1h-2zM1230 195h2v1h-2zM1162 149h2v1h-2zM1010 422h2v1h-2zM1015 422h2v1h-2zM851 141h2v1h-2zM1222 182h2v1h-2zM616 209h2v1h-2zM119 204h3v1h-3zM1200 204h5v1h-5zM963 367h2v1h-2zM895 474h2v1h-2zM6 192h1v2h-1zM265 303h1v1h-1zM706 310h1v2h-1zM726 289h1v2h-1zM880 347h1v11h-1zM926 314h1v5h-1zM1127 300h1v6h-1zM247 290h1v2h-1zM858 174h1v6h-1zM876 308h1v9h-1zM1030 370h1v5h-1zM365 245h1v2h-1zM597 260h1v2h-1zM1249 185h1v2h-1zM1098 360h1v3h-1zM55 205h1v1h-1zM1145 208h1v6h-1zM1022 408h1v4h-1zM866 237h1v6h-1zM403 250h1v2h-1zM604 240h1v3h-1zM832 244h1v6h-1zM340 309h1v2h-1zM809 377h1v4h-1zM984 381h1v2h-1zM144 254h1v3h-1zM1150 183h1v5h-1zM953 392h1v4h-1zM428 279h1v3h-1zM126 205h1v2h-1zM508 307h1v2h-1zM882 369h1v10h-1zM130 212h1v2h-1zM230 300h1v1h-1zM841 187h1v6h-1zM289 347h1v3h-1zM878 327h1v10h-1zM903 427h1v9h-1zM1118 350h1v5h-1zM642 244h1v1h-1zM929 332h1v9h-1zM210 319h1v3h-1zM1002 407h1v3h-1zM1136 257h1v5h-1zM1095 367h1v4h-1zM290 350h1v3h-1zM336 316h1v2h-1zM1135 262h1v6h-1zM846 157h1v5h-1zM897 470h1v3h-1zM1086 405h1v2h-1zM643 245h1v2h-1zM857 167h1v7h-1zM1173 144h1v2h-1zM1123 323h1v6h-1zM646 250h1v2h-1zM69 237h1v2h-1zM806 388h1v3h-1zM1026 389h1v5h-1zM913 330h1v5h-1zM542 278h1v3h-1zM925 308h1v6h-1zM902 436h1v10h-1zM823 291h1v8h-1zM446 310h1v1h-1zM249 290h1v1h-1zM421 253h1v4h-1zM609 222h1v3h-1zM332 324h1v1h-1zM274 317h1v3h-1zM870 264h1v8h-1zM219 302h1v2h-1zM380 256h1v2h-1zM753 353h1v2h-1zM908 373h1v10h-1zM881 358h1v11h-1zM29 178h1v2h-1zM383 262h1v2h-1zM738 309h1v3h-1zM275 320h1v2h-1zM530 281h1v1h-1zM327 330h1v2h-1zM1139 242h1v5h-1zM850 142h1v3h-1zM1090 388h1v5h-1zM364 247h1v2h-1zM887 428h1v13h-1zM1048 390h1v4h-1zM826 276h1v4h-1zM860 187h1v8h-1zM1070 410h1v1h-1zM1126 306h1v6h-1zM595 265h1v2h-1zM928 325h1v7h-1zM1144 214h1v5h-1zM720 297h1v2h-1zM831 250h1v6h-1zM634 230h1v2h-1zM907 383h1v11h-1zM1190 188h1v1h-1zM402 252h1v3h-1zM234 295h1v2h-1zM952 396h1v3h-1zM872 280h1v8h-1zM763 380h1v2h-1zM683 270h1v2h-1zM192 298h1v3h-1zM98 255h1v2h-1zM122 203h1v1h-1zM745 331h1v3h-1zM890 456h1v6h-1zM507 309h1v2h-1zM573 254h1v2h-1zM519 283h1v2h-1zM987 388h1v2h-1zM1094 371h1v4h-1zM195 308h1v4h-1zM469 283h1v1h-1zM657 254h1v1h-1zM937 388h1v6h-1zM1228 192h1v2h-1zM1044 370h1v4h-1zM1117 355h1v5h-1zM931 349h1v9h-1zM1085 407h1v3h-1zM863 214h1v10h-1zM431 290h1v4h-1zM886 415h1v13h-1zM859 180h1v7h-1zM912 335h1v8h-1zM704 307h1v2h-1zM1267 155h1v1h-1zM515 291h1v2h-1zM822 299h1v9h-1zM114 210h1v3h-1zM917 307h1v5h-1zM56 206h1v3h-1zM607 228h1v4h-1zM901 446h1v9h-1zM1081 415h1v1h-1zM853 142h1v6h-1zM188 282h1v4h-1zM911 343h1v10h-1zM871 272h1v8h-1zM884 390h1v12h-1zM218 304h1v3h-1zM1120 340h1v5h-1zM1209 191h1v2h-1zM140 241h1v3h-1zM817 339h1v7h-1zM627 217h1v1h-1zM821 308h1v8h-1zM975 367h1v3h-1zM424 264h1v3h-1zM162 266h1v1h-1zM146 258h1v3h-1zM1125 312h1v6h-1zM594 267h1v3h-1zM976 370h1v2h-1zM889 450h1v6h-1zM660 250h1v1h-1zM719 299h1v2h-1zM1028 378h1v5h-1zM900 455h1v7h-1zM143 251h1v3h-1zM934 371h1v6h-1zM1061 413h1v2h-1zM427 275h1v4h-1zM64 223h1v2h-1zM1157 158h1v3h-1zM129 210h1v2h-1zM906 394h1v12h-1zM18 192h1v2h-1zM97 257h1v1h-1zM70 239h1v2h-1zM830 256h1v5h-1zM856 160h1v7h-1zM1224 183h1v2h-1zM579 266h1v1h-1zM612 213h1v2h-1zM71 241h1v2h-1zM225 299h1v1h-1zM748 340h1v3h-1zM874 295h1v6h-1zM840 193h1v6h-1zM135 225h1v3h-1zM1032 363h1v4h-1zM556 255h1v2h-1zM883 379h1v11h-1zM105 239h1v5h-1zM892 468h1v3h-1zM905 406h1v11h-1zM1084 410h1v2h-1zM1146 203h1v5h-1zM514 293h1v3h-1zM844 168h1v6h-1zM420 250h1v3h-1zM734 296h1v3h-1zM491 309h1v2h-1zM1046 379h1v6h-1zM752 350h1v3h-1zM1182 163h1v2h-1zM113 213h1v3h-1zM381 258h1v2h-1zM273 315h1v2h-1zM30 180h1v1h-1zM606 232h1v4h-1zM737 305h1v4h-1zM1024 400h1v4h-1zM217 307h1v2h-1zM1152 175h1v4h-1zM955 384h1v4h-1zM1069 408h1v2h-1zM552 261h1v1h-1zM927 319h1v6h-1zM758 365h1v4h-1zM1072 413h1v1h-1zM904 417h1v10h-1zM670 252h1v2h-1zM877 317h1v10h-1zM855 154h1v6h-1zM847 151h1v6h-1zM1208 193h1v2h-1zM671 254h1v1h-1zM910 353h1v10h-1zM284 338h1v2h-1zM761 375h1v2h-1zM1027 383h1v6h-1zM161 267h1v2h-1zM571 252h1v1h-1zM685 273h1v2h-1zM213 314h1v2h-1zM816 346h1v6h-1zM1192 190h1v1h-1zM1137 252h1v5h-1zM899 462h1v3h-1zM820 316h1v8h-1zM1088 398h1v4h-1zM572 253h1v1h-1zM1040 358h1v1h-1zM986 385h1v3h-1zM1018 419h1v2h-1zM824 284h1v7h-1zM575 258h1v2h-1zM989 392h1v1h-1zM298 358h1v1h-1zM936 383h1v5h-1zM1258 170h1v3h-1zM868 249h1v7h-1zM1196 195h1v2h-1zM1142 225h1v6h-1zM180 259h1v1h-1zM923 302h1v2h-1zM909 363h1v10h-1zM291 353h1v3h-1zM1043 366h1v4h-1zM412 236h1v1h-1zM358 265h1v4h-1zM209 322h1v1h-1zM950 403h1v4h-1zM834 228h1v8h-1zM374 245h1v1h-1zM1254 178h1v1h-1zM407 242h1v1h-1zM258 298h1v2h-1zM839 199h1v5h-1zM1092 379h1v4h-1zM802 399h1v3h-1zM513 296h1v2h-1zM37 187h1v1h-1zM828 267h1v5h-1zM779 414h1v2h-1zM512 298h1v3h-1zM864 224h1v7h-1zM833 236h1v8h-1zM598 257h1v3h-1zM677 260h1v2h-1zM1133 273h1v6h-1zM888 441h1v9h-1zM954 388h1v4h-1zM974 365h1v2h-1zM618 210h1v1h-1zM966 360h1v3h-1zM1207 195h1v3h-1zM353 282h1v3h-1zM1049 394h1v3h-1zM885 402h1v13h-1zM743 325h1v3h-1zM873 288h1v7h-1zM861 195h1v10h-1zM581 269h1v1h-1zM231 299h1v1h-1zM914 323h1v7h-1zM746 334h1v3h-1zM1257 173h1v2h-1zM698 294h1v3h-1zM196 312h1v3h-1zM747 337h1v3h-1zM919 298h1v5h-1zM227 301h1v1h-1zM1252 180h1v1h-1zM492 311h1v2h-1zM891 462h1v6h-1zM938 394h1v5h-1zM958 374h1v3h-1zM199 322h1v3h-1zM949 407h1v4h-1zM493 313h1v1h-1zM733 293h1v3h-1zM939 399h1v6h-1zM818 331h1v8h-1zM200 325h1v2h-1zM246 292h1v2h-1zM33 184h1v1h-1zM932 358h1v7h-1zM511 301h1v2h-1zM103 247h1v2h-1zM189 286h1v4h-1zM282 334h1v2h-1zM325 333h1v2h-1zM686 275h1v1h-1zM283 336h1v2h-1zM361 255h1v3h-1zM352 285h1v3h-1zM836 214h1v6h-1zM935 377h1v6h-1zM1205 200h1v3h-1zM687 276h1v2h-1zM867 243h1v6h-1zM1198 199h1v2h-1zM87 252h1v2h-1zM107 230h1v5h-1zM414 239h1v1h-1zM17 194h1v1h-1zM485 298h1v2h-1zM793 415h1v1h-1zM879 337h1v10h-1zM922 299h1v3h-1zM115 207h1v3h-1zM1006 415h1v3h-1zM256 295h1v1h-1zM376 248h1v2h-1zM777 411h1v2h-1zM608 225h1v3h-1zM185 270h1v4h-1zM137 231h1v3h-1zM331 325h1v1h-1zM257 296h1v2h-1zM167 259h1v1h-1zM957 377h1v4h-1zM1166 143h1v2h-1zM724 292h1v1h-1zM356 273h1v3h-1zM1263 160h1v2h-1zM664 247h1v1h-1zM1161 150h1v1h-1zM1186 176h1v4h-1zM102 249h1v2h-1zM739 312h1v4h-1zM837 209h1v5h-1zM742 322h1v3h-1zM1131 284h1v3h-1zM518 285h1v2h-1zM1054 408h1v2h-1zM1149 188h1v4h-1zM315 334h1v2h-1zM603 243h1v3h-1zM506 311h1v2h-1zM1055 410h1v2h-1zM583 271h1v1h-1zM697 292h1v2h-1zM716 305h1v2h-1zM869 256h1v8h-1zM1093 375h1v4h-1zM398 261h1v3h-1zM311 341h1v2h-1zM1116 360h1v2h-1zM557 254h1v1h-1zM770 397h1v2h-1zM494 314h1v1h-1zM845 162h1v6h-1zM393 268h1v1h-1zM252 292h1v1h-1zM495 315h1v1h-1zM804 395h1v3h-1zM1213 186h1v1h-1zM956 381h1v3h-1zM1165 145h1v2h-1zM968 355h1v1h-1zM264 302h1v1h-1zM355 276h1v3h-1zM166 260h1v2h-1zM827 272h1v4h-1zM1262 162h1v2h-1zM1045 374h1v5h-1zM1160 151h1v2h-1zM57 209h1v2h-1zM1089 393h1v5h-1zM304 352h1v1h-1zM110 221h1v3h-1zM101 251h1v2h-1zM965 363h1v3h-1zM689 279h1v2h-1zM1143 219h1v6h-1zM930 341h1v8h-1zM85 248h1v2h-1zM1220 180h1v1h-1zM862 205h1v9h-1zM611 215h1v3h-1zM483 295h1v1h-1zM920 295h1v2h-1zM960 369h1v1h-1zM1000 403h1v3h-1zM86 250h1v2h-1zM132 216h1v2h-1zM484 296h1v2h-1zM1004 411h1v3h-1zM487 301h1v2h-1zM715 307h1v2h-1zM397 264h1v1h-1zM1175 148h1v2h-1zM4 188h1v2h-1zM875 301h1v7h-1zM310 343h1v2h-1zM136 228h1v3h-1zM803 398h1v1h-1zM755 357h1v2h-1zM1047 385h1v5h-1zM382 260h1v2h-1zM277 324h1v2h-1zM510 303h1v2h-1zM109 224h1v2h-1zM1124 318h1v5h-1zM338 312h1v3h-1zM1056 412h1v1h-1zM633 228h1v2h-1zM1057 413h1v1h-1zM835 220h1v8h-1zM610 218h1v4h-1zM208 323h1v2h-1zM959 370h1v4h-1zM829 261h1v6h-1zM772 401h1v3h-1zM1147 197h1v6h-1zM266 304h1v3h-1zM269 310h1v1h-1zM330 326h1v2h-1zM721 296h1v1h-1zM26 179h1v2h-1zM59 213h1v2h-1zM142 247h1v4h-1zM625 215h1v1h-1zM426 271h1v4h-1zM915 318h1v5h-1zM798 407h1v3h-1zM235 294h1v1h-1zM145 257h1v1h-1zM84 247h1v1h-1zM22 185h1v3h-1zM108 226h1v4h-1zM1188 184h1v3h-1zM825 280h1v4h-1zM66 228h1v3h-1zM482 292h1v3h-1zM815 352h1v5h-1zM131 214h1v2h-1zM349 293h1v2h-1zM1268 154h1v1h-1zM467 285h1v2h-1zM647 252h1v2h-1zM1177 152h1v1h-1zM1128 295h1v5h-1zM1154 168h1v3h-1zM1178 153h1v3h-1zM357 269h1v4h-1zM40 189h1v1h-1zM463 292h1v1h-1zM754 355h1v2h-1zM1184 168h1v4h-1zM384 264h1v1h-1zM276 322h1v2h-1zM596 262h1v3h-1zM854 148h1v6h-1zM1071 411h1v2h-1zM1132 279h1v5h-1zM1261 164h1v2h-1zM621 212h1v1h-1zM842 180h1v7h-1zM1119 345h1v5h-1zM635 232h1v2h-1zM1236 192h1v1h-1zM574 256h1v2h-1zM577 262h1v1h-1zM1033 362h1v1h-1zM313 337h1v2h-1zM182 262h1v2h-1zM222 299h1v1h-1zM451 308h1v1h-1zM805 391h1v4h-1zM348 295h1v2h-1zM1025 394h1v6h-1zM267 307h1v1h-1zM1153 171h1v4h-1zM466 287h1v1h-1zM432 294h1v2h-1zM1140 237h1v5h-1zM309 345h1v2h-1zM1106 359h1v2h-1zM36 186h1v1h-1zM462 293h1v3h-1zM675 258h1v1h-1zM1066 408h1v1h-1zM550 263h1v2h-1zM676 259h1v1h-1zM679 263h1v2h-1zM425 267h1v4h-1zM214 313h1v1h-1zM1051 401h1v3h-1zM458 301h1v2h-1zM1187 180h1v4h-1zM65 225h1v3h-1zM546 270h1v2h-1zM360 258h1v3h-1zM645 248h1v2h-1zM198 318h1v4h-1zM893 471h1v1h-1zM813 361h1v5h-1zM1134 268h1v5h-1zM783 419h1v1h-1zM1212 187h1v1h-1zM735 299h1v3h-1zM42 192h1v1h-1zM1121 334h1v6h-1zM165 262h1v1h-1zM31 181h1v2h-1zM385 265h1v1h-1zM343 304h1v2h-1zM1183 165h1v3h-1zM386 266h1v2h-1zM406 243h1v3h-1zM1097 363h1v1h-1zM303 353h1v1h-1zM549 265h1v1h-1zM615 210h1v1h-1zM125 203h1v2h-1zM288 345h1v2h-1zM339 311h1v1h-1zM285 340h1v2h-1zM808 381h1v3h-1zM430 286h1v4h-1zM1156 161h1v3h-1zM576 260h1v2h-1zM359 261h1v4h-1zM545 272h1v2h-1zM1197 197h1v2h-1zM1200 203h1v1h-1zM184 266h1v4h-1zM433 296h1v1h-1zM413 237h1v2h-1zM416 242h1v2h-1zM335 318h1v2h-1zM924 304h1v4h-1zM434 297h1v1h-1zM204 329h1v1h-1zM375 246h1v2h-1zM367 242h1v2h-1zM259 300h1v2h-1zM378 252h1v2h-1zM1023 404h1v4h-1zM865 231h1v6h-1zM1151 179h1v4h-1zM933 365h1v6h-1zM363 249h1v3h-1zM629 220h1v1h-1zM322 334h1v1h-1zM1050 397h1v4h-1zM1096 364h1v3h-1zM794 414h1v1h-1zM1226 187h1v3h-1zM116 206h1v1h-1zM765 385h1v2h-1zM699 297h1v2h-1zM334 320h1v2h-1zM197 315h1v3h-1zM725 291h1v1h-1zM838 204h1v5h-1zM1091 383h1v5h-1zM25 181h1v1h-1zM104 244h1v3h-1zM843 174h1v6h-1zM669 251h1v1h-1zM811 370h1v4h-1zM21 188h1v1h-1zM362 252h1v3h-1zM286 342h1v1h-1zM593 270h1v2h-1zM287 343h1v2h-1zM688 278h1v1h-1zM988 390h1v2h-1zM1237 191h1v1h-1zM691 283h1v2h-1zM1060 415h1v1h-1zM429 282h1v4h-1zM1195 194h1v1h-1zM1199 201h1v2h-1zM1035 358h1v1h-1zM399 260h1v1h-1zM819 324h1v7h-1zM134 221h1v4h-1zM435 298h1v1h-1zM918 303h1v4h-1zM415 240h1v2h-1zM373 243h1v2h-1zM1003 410h1v1h-1zM436 299h1v1h-1zM750 345h1v3h-1zM272 313h1v2h-1zM778 413h1v1h-1zM422 257h1v3h-1zM112 216h1v3h-1zM810 374h1v3h-1zM279 328h1v2h-1zM760 372h1v3h-1zM1063 410h1v2h-1zM1021 412h1v4h-1zM592 272h1v1h-1zM226 300h1v1h-1zM312 339h1v2h-1zM558 251h1v3h-1zM450 309h1v1h-1zM1122 329h1v5h-1zM600 252h1v3h-1zM411 237h1v1h-1zM771 399h1v2h-1zM774 405h1v3h-1zM554 258h1v2h-1zM1073 414h1v1h-1zM58 211h1v2h-1zM61 217h1v2h-1zM624 214h1v1h-1zM990 393h1v1h-1zM693 286h1v1h-1zM1130 287h1v5h-1zM1148 192h1v5h-1zM147 261h1v1h-1zM292 356h1v1h-1zM1221 181h1v1h-1zM133 218h1v3h-1zM731 290h1v1h-1zM409 239h1v1h-1zM438 302h1v1h-1zM1176 150h1v2h-1zM1179 156h1v1h-1zM599 255h1v2h-1zM1251 181h1v2h-1zM780 416h1v1h-1zM940 405h1v3h-1zM27 178h1v1h-1zM405 246h1v1h-1zM916 312h1v6h-1zM982 379h1v1h-1zM278 326h1v2h-1zM759 369h1v3h-1zM799 406h1v1h-1zM191 294h1v4h-1zM964 366h1v1h-1zM351 288h1v2h-1zM637 236h1v2h-1zM1204 203h1v1h-1zM228 302h1v1h-1zM852 138h1v2h-1zM896 473h1v1h-1zM896 475h1v1h-1zM187 278h1v4h-1zM541 281h1v1h-1zM1250 183h1v2h-1zM971 359h1v1h-1zM404 247h1v3h-1zM423 260h1v4h-1zM673 256h1v1h-1zM509 305h1v2h-1zM1138 247h1v5h-1zM1053 406h1v2h-1zM149 264h1v2h-1zM96 258h1v1h-1zM67 231h1v3h-1zM232 298h1v1h-1zM602 246h1v3h-1zM560 249h1v1h-1zM505 313h1v2h-1zM1087 402h1v3h-1zM517 287h1v2h-1zM744 328h1v3h-1zM294 358h1v1h-1zM951 399h1v4h-1zM1155 164h1v4h-1zM333 322h1v2h-1zM14 196h1v1h-1zM220 301h1v1h-1zM1265 158h1v1h-1zM736 302h1v3h-1zM782 418h1v1h-1zM41 190h1v2h-1zM52 200h1v1h-1zM661 249h1v1h-1zM1159 153h1v3h-1zM190 290h1v4h-1zM520 282h1v1h-1zM639 239h1v2h-1zM658 252h1v2h-1zM127 207h1v2h-1zM193 301h1v4h-1zM1042 363h1v3h-1zM1034 359h1v3h-1zM516 289h1v2h-1zM1233 195h1v1h-1zM1082 413h1v2h-1zM268 308h1v2h-1zM186 274h1v4h-1zM138 234h1v4h-1zM344 303h1v1h-1zM973 362h1v3h-1zM163 264h1v2h-1zM141 244h1v3h-1zM605 236h1v4h-1zM1260 166h1v2h-1zM628 218h1v2h-1zM977 372h1v2h-1zM474 282h1v1h-1zM898 465h1v5h-1zM767 390h1v2h-1zM1225 185h1v2h-1zM1217 182h1v1h-1zM449 310h1v1h-1zM106 235h1v4h-1zM72 243h1v1h-1zM701 302h1v1h-1zM170 257h1v1h-1zM410 238h1v1h-1zM442 307h1v1h-1zM894 472h1v2h-1zM756 359h1v3h-1zM54 202h1v3h-1zM308 347h1v2h-1zM43 193h1v2h-1zM1259 168h1v2h-1zM997 398h1v1h-1zM457 303h1v2h-1zM93 256h1v1h-1zM998 399h1v3h-1zM1020 416h1v2h-1zM1041 359h1v4h-1zM690 281h1v2h-1zM580 267h1v2h-1zM181 260h1v2h-1zM417 244h1v2h-1zM1008 419h1v2h-1zM270 311h1v1h-1zM707 312h1v1h-1zM723 293h1v1h-1zM1105 358h1v1h-1zM271 312h1v1h-1zM948 411h1v1h-1zM626 216h1v1h-1zM678 262h1v1h-1zM630 221h1v3h-1zM978 374h1v1h-1zM979 375h1v2h-1zM762 377h1v3h-1zM682 268h1v2h-1zM401 255h1v2h-1zM1036 357h1v1h-1zM1193 191h1v1h-1zM807 384h1v4h-1zM194 305h1v3h-1zM1235 193h1v1h-1zM766 387h1v3h-1zM544 274h1v3h-1zM1168 139h1v1h-1zM700 299h1v3h-1zM347 297h1v2h-1zM329 328h1v1h-1zM776 409h1v2h-1zM44 195h1v1h-1zM540 282h1v1h-1zM1266 156h1v2h-1zM45 196h1v1h-1zM722 294h1v2h-1zM848 147h1v4h-1zM100 253h1v1h-1zM63 221h1v2h-1zM718 301h1v2h-1zM400 257h1v3h-1zM559 250h1v1h-1zM578 263h1v3h-1zM692 285h1v1h-1zM714 309h1v1h-1zM183 264h1v2h-1zM729 288h1v1h-1zM1007 418h1v1h-1zM1141 231h1v6h-1zM555 257h1v1h-1zM1264 159h1v1h-1zM377 250h1v2h-1zM437 300h1v2h-1zM1181 160h1v3h-1zM1107 361h1v1h-1zM1083 412h1v1h-1zM1211 188h1v2h-1zM942 409h1v2h-1zM757 362h1v3h-1zM164 263h1v1h-1zM1185 172h1v4h-1zM680 265h1v1h-1zM216 309h1v2h-1zM967 357h1v3h-1zM980 377h1v1h-1zM280 330h1v2h-1zM681 266h1v2h-1zM981 378h1v1h-1zM302 354h1v2h-1zM717 303h1v2h-1zM212 316h1v2h-1zM636 234h1v2h-1zM1017 421h1v1h-1zM814 357h1v4h-1zM713 310h1v2h-1zM1170 141h1v1h-1zM32 183h1v1h-1zM241 293h1v1h-1zM461 296h1v1h-1zM47 198h1v1h-1zM242 294h1v1h-1zM111 219h1v2h-1zM970 357h1v2h-1zM62 219h1v2h-1zM1206 198h1v2h-1zM1052 404h1v2h-1zM68 234h1v3h-1zM148 262h1v2h-1zM454 306h1v1h-1zM991 394h1v1h-1zM151 267h1v2h-1zM694 287h1v2h-1zM584 272h1v1h-1zM1256 175h1v2h-1zM1005 414h1v1h-1zM488 303h1v2h-1zM749 343h1v2h-1zM439 303h1v2h-1zM5 190h1v2h-1zM1180 157h1v3h-1zM307 349h1v1h-1zM245 294h1v2h-1zM24 182h1v2h-1zM800 403h1v3h-1zM1029 375h1v3h-1zM281 332h1v2h-1zM233 297h1v1h-1zM983 380h1v1h-1zM20 189h1v2h-1zM480 289h1v2h-1zM477 284h1v2h-1zM638 238h1v1h-1zM641 242h1v2h-1zM1001 406h1v1h-1zM727 288h1v1h-1zM773 404h1v1h-1zM205 328h1v1h-1zM248 289h1v1h-1zM812 366h1v4h-1zM139 238h1v3h-1zM243 295h1v1h-1zM972 360h1v2h-1zM244 296h1v1h-1zM60 215h1v2h-1zM521 281h1v1h-1zM23 184h1v1h-1zM849 145h1v2h-1zM659 251h1v1h-1zM741 319h1v3h-1zM1189 187h1v1h-1zM150 266h1v1h-1zM350 290h1v3h-1zM19 191h1v1h-1zM696 290h1v2h-1zM1234 194h1v1h-1zM486 300h1v1h-1zM769 395h1v2h-1zM1227 190h1v2h-1zM1129 292h1v3h-1zM440 305h1v1h-1zM464 290h1v2h-1zM7 194h1v2h-1zM703 306h1v1h-1zM441 306h1v1h-1zM1164 147h1v2h-1zM354 279h1v3h-1zM460 297h1v2h-1zM99 254h1v1h-1zM614 211h1v1h-1zM1242 188h1v1h-1zM985 383h1v2h-1zM478 286h1v1h-1zM479 287h1v2h-1zM996 397h1v1h-1zM128 209h1v1h-1zM999 402h1v1h-1zM601 249h1v3h-1zM1174 146h1v2h-1zM1215 184h1v1h-1zM396 265h1v2h-1zM408 240h1v2h-1zM1031 367h1v3h-1zM419 248h1v2h-1zM1210 190h1v1h-1zM215 311h1v2h-1zM341 307h1v2h-1zM459 299h1v2h-1zM301 356h1v1h-1zM547 268h1v2h-1zM1158 156h1v2h-1zM740 316h1v3h-1zM632 225h1v3h-1zM764 382h1v3h-1zM570 251h1v1h-1zM211 318h1v1h-1zM1191 189h1v1h-1zM768 392h1v3h-1zM207 325h1v1h-1zM702 303h1v3h-1zM705 309h1v1h-1zM797 410h1v1h-1zM566 248h1v1h-1zM1172 143h1v1h-1zM792 416h1v1h-1zM1255 177h1v1h-1zM728 287h1v1h-1zM418 246h1v2h-1zM206 326h1v2h-1zM379 254h1v2h-1zM28 177h1v1h-1zM668 250h1v1h-1zM941 408h1v1h-1zM631 224h1v1h-1zM1194 192h1v2h-1zM796 411h1v2h-1zM229 301h1v1h-1zM465 288h1v2h-1zM53 201h1v1h-1zM326 332h1v1h-1zM590 274h1v1h-1zM582 270h1v1h-1zM1167 141h1v2h-1zM490 307h1v2h-1zM1216 183h1v1h-1zM751 348h1v2h-1zM346 299h1v2h-1zM201 327h1v1h-1zM1100 358h1v1h-1zM943 411h1v1h-1zM613 212h1v1h-1zM684 272h1v1h-1zM548 266h1v2h-1zM443 308h1v1h-1zM1214 185h1v1h-1zM775 408h1v1h-1zM345 301h1v2h-1zM387 268h1v1h-1zM801 402h1v1h-1zM305 351h1v1h-1zM665 248h1v1h-1zM695 289h1v1h-1zM543 277h1v1h-1zM489 305h1v2h-1zM789 418h1v1h-1zM1009 421h1v1h-1zM732 291h1v2h-1zM328 329h1v1h-1zM672 255h1v1h-1zM921 298h1v1h-1zM481 291h1v1h-1zM1232 196h1v1h-1zM46 197h1v1h-1zM781 417h1v1h-1zM1062 412h1v1h-1zM468 284h1v1h-1zM569 250h1v1h-1zM795 413h1v1h-1zM730 289h1v1h-1zM8 196h1v1h-1zM342 306h1v1h-1zM553 260h1v1h-1zM674 257h1v1h-1zM1019 418h1v1h-1zM640 241h1v1h-1zM314 336h1v1h-1zM1171 142h1v1h-1zM644 247h1v1h-1zM366 244h1v1h-1zM551 262h1v1h-1zM1099 359h1v1h-1zM306 350h1v1h-1zM337 315h1v1h-1zM585 273h1v1h-1zM81 245h1v1h-1zM1229 194h1v1h-1zM253 293h1v1h-1zM1253 179h1v1h-1z"/>
<path fill="#ff0000" d="M43 190h3v1h-3zM1247 190h2v1h-2zM119 234h2v1h-2zM632 234h3v1h-3zM656 234h3v1h-3zM800 401h2v1h-2zM806 401h2v1h-2zM1019 401h3v1h-3zM114 237h2v1h-2zM99 241h4v1h-4zM107 241h3v1h-3zM623 241h2v1h-2zM587 262h6v1h-6zM202 287h2v1h-2zM147 231h4v1h-4zM643 231h4v1h-4zM651 231h2v1h-2zM716 289h2v1h-2zM308 337h2v1h-2zM619 243h3v1h-3zM299 331h2v1h-2zM139 232h3v1h-3zM151 232h2v1h-2zM639 232h4v1h-4zM583 263h4v1h-4zM998 382h2v1h-2zM267 300h4v1h-4zM491 300h4v1h-4zM499 300h8v1h-8zM296 329h2v1h-2zM630 235h2v1h-2zM659 235h2v1h-2zM271 301h2v1h-2zM495 301h4v1h-4zM323 343h6v1h-6zM263 298h3v1h-3zM479 298h11v1h-11zM511 298h4v1h-4zM523 298h8v1h-8zM283 311h2v1h-2zM451 281h2v1h-2zM615 245h3v1h-3zM567 265h8v1h-8zM1224 191h15v1h-15zM1243 191h4v1h-4zM218 297h2v1h-2zM254 297h2v1h-2zM259 297h4v1h-4zM475 297h4v1h-4zM515 297h8v1h-8zM531 297h3v1h-3zM407 250h6v1h-6zM674 250h2v1h-2zM871 217h2v1h-2zM55 195h2v1h-2zM386 267h2v1h-2zM432 267h3v1h-3zM96 240h3v1h-3zM1043 395h3v1h-3zM1055 395h4v1h-4zM1098 395h2v1h-2zM435 268h2v1h-2zM560 268h2v1h-2zM694 268h2v1h-2zM995 380h2v1h-2zM979 386h6v1h-6zM127 228h7v1h-7zM404 251h3v1h-3zM315 340h3v1h-3zM958 359h2v1h-2zM383 269h2v1h-2zM430 266h2v1h-2zM563 266h4v1h-4zM575 266h3v1h-3zM47 192h4v1h-4zM1239 192h4v1h-4zM256 296h3v1h-3zM468 296h7v1h-7zM730 296h2v1h-2zM798 400h2v1h-2zM390 264h2v1h-2zM579 264h4v1h-4zM1211 174h2v1h-2zM976 384h2v1h-2zM986 384h2v1h-2zM462 291h2v1h-2zM719 291h4v1h-4zM116 236h2v1h-2zM908 372h3v1h-3zM915 373h3v1h-3zM988 383h2v1h-2zM1203 175h3v1h-3zM302 333h2v1h-2zM338 333h2v1h-2zM928 387h2v1h-2zM931 389h2v1h-2zM1107 389h2v1h-2zM610 248h2v1h-2zM214 294h2v1h-2zM727 294h2v1h-2zM1051 396h4v1h-4zM380 271h2v1h-2zM635 233h4v1h-4zM654 233h2v1h-2zM34 183h2v1h-2zM507 299h4v1h-4zM1059 394h2v1h-2zM1075 394h2v1h-2zM204 288h2v1h-2zM714 288h2v1h-2zM167 246h2v1h-2zM60 198h2v1h-2zM1064 391h6v1h-6zM448 279h2v1h-2zM598 257h2v1h-2zM919 375h2v1h-2zM803 403h2v1h-2zM1023 403h2v1h-2zM1084 403h3v1h-3zM1200 173h2v1h-2zM1207 173h4v1h-4zM678 253h2v1h-2zM1090 402h2v1h-2zM1104 390h3v1h-3zM111 239h2v1h-2zM207 290h3v1h-3zM311 339h4v1h-4zM438 270h2v1h-2zM414 252h2v1h-2zM603 254h2v1h-2zM991 381h4v1h-4zM911 371h3v1h-3zM124 230h2v1h-2zM135 230h3v1h-3zM143 230h4v1h-4zM647 230h4v1h-4zM211 292h2v1h-2zM723 292h3v1h-3zM306 336h2v1h-2zM231 307h12v1h-12zM1035 392h4v1h-4zM1062 392h2v1h-2zM612 247h2v1h-2zM319 342h4v1h-4zM1032 393h3v1h-3zM1039 393h3v1h-3zM1071 393h4v1h-4zM594 260h2v1h-2zM535 295h2v1h-2zM418 255h2v1h-2zM710 285h2v1h-2zM442 273h2v1h-2zM1002 385h2v1h-2zM246 304h2v1h-2zM1258 179h2v1h-2zM1263 179h6v1h-6zM1014 398h2v1h-2zM103 242h4v1h-4zM1191 165h2v1h-2zM58 197h2v1h-2zM51 193h3v1h-3zM1047 397h4v1h-4zM538 293h2v1h-2zM228 306h3v1h-3zM243 306h2v1h-2zM164 244h2v1h-2zM1260 178h3v1h-3zM280 309h2v1h-2zM868 215h2v1h-2zM600 256h2v1h-2zM40 188h2v1h-2zM63 200h2v1h-2zM862 222h2v1h-2zM1016 399h2v1h-2zM1188 167h2v1h-2zM1194 167h2v1h-2zM394 261h2v1h-2zM1087 404h2v1h-2zM843 279h1v6h-1zM1172 190h1v2h-1zM1131 338h1v3h-1zM444 274h1v1h-1zM1026 400h1v2h-1zM878 237h1v4h-1zM33 182h1v1h-1zM596 259h1v1h-1zM750 316h1v2h-1zM830 344h1v4h-1zM688 262h1v1h-1zM888 285h1v5h-1zM860 224h1v2h-1zM751 318h1v1h-1zM543 289h1v1h-1zM898 337h1v6h-1zM126 229h1v1h-1zM761 330h1v2h-1zM765 337h1v1h-1zM856 231h1v3h-1zM847 260h1v5h-1zM1113 382h1v2h-1zM1125 355h1v3h-1zM554 275h1v2h-1zM834 326h1v5h-1zM772 352h1v3h-1zM359 300h1v2h-1zM1142 299h1v4h-1zM1214 176h1v2h-1zM549 281h1v1h-1zM1158 242h1v4h-1zM62 199h1v1h-1zM905 365h1v2h-1zM850 247h1v4h-1zM1164 215h1v5h-1zM665 240h1v1h-1zM829 348h1v4h-1zM786 386h1v1h-1zM842 285h1v5h-1zM351 315h1v1h-1zM1162 224h1v5h-1zM890 295h1v6h-1zM1137 317h1v4h-1zM881 251h1v4h-1zM900 349h1v4h-1zM1124 358h1v3h-1zM347 322h1v2h-1zM855 234h1v1h-1zM397 259h1v1h-1zM953 360h1v1h-1zM845 269h1v5h-1zM833 331h1v5h-1zM375 276h1v2h-1zM1141 303h1v4h-1zM950 363h1v2h-1zM874 222h1v3h-1zM877 232h1v5h-1zM446 276h1v2h-1zM457 286h1v1h-1zM945 369h1v1h-1zM808 400h1v1h-1zM701 274h1v1h-1zM1250 187h1v2h-1zM458 287h1v1h-1zM887 280h1v5h-1zM1128 347h1v3h-1zM334 337h1v1h-1zM690 264h1v1h-1zM836 316h1v5h-1zM366 289h1v1h-1zM753 320h1v1h-1zM1182 174h1v1h-1zM1136 321h1v3h-1zM350 316h1v3h-1zM941 376h1v2h-1zM1145 289h1v3h-1zM1092 401h1v1h-1zM1178 180h1v2h-1zM771 350h1v2h-1zM971 376h1v1h-1zM883 260h1v4h-1zM346 324h1v2h-1zM893 311h1v5h-1zM113 238h1v1h-1zM972 377h1v1h-1zM777 366h1v2h-1zM975 382h1v2h-1zM285 312h1v2h-1zM914 372h1v1h-1zM374 278h1v1h-1zM289 318h1v2h-1zM832 336h1v4h-1zM784 382h1v2h-1zM27 175h1v1h-1zM1004 386h1v1h-1zM667 243h1v1h-1zM785 384h1v2h-1zM745 311h1v1h-1zM1005 387h1v1h-1zM788 389h1v1h-1zM365 290h1v2h-1zM940 378h1v2h-1zM880 246h1v5h-1zM1181 175h1v2h-1zM1144 292h1v3h-1zM1046 396h1v1h-1zM361 297h1v2h-1zM1177 182h1v2h-1zM490 299h1v1h-1zM1031 394h1v1h-1zM345 326h1v2h-1zM190 272h1v2h-1zM1157 246h1v4h-1zM392 263h1v1h-1zM194 277h1v2h-1zM831 340h1v4h-1zM340 332h1v1h-1zM1103 391h1v1h-1zM821 374h1v3h-1zM895 321h1v5h-1zM886 274h1v6h-1zM1139 310h1v4h-1zM85 226h1v2h-1zM896 326h1v5h-1zM1155 255h1v3h-1zM1000 383h1v1h-1zM703 276h1v1h-1zM86 228h1v1h-1zM1118 373h1v3h-1zM123 231h1v1h-1zM1161 229h1v4h-1zM818 383h1v2h-1zM1143 295h1v4h-1zM826 358h1v3h-1zM973 378h1v2h-1zM287 315h1v2h-1zM605 253h1v1h-1zM1030 395h1v2h-1zM291 321h1v2h-1zM547 283h1v2h-1zM1025 402h1v1h-1zM1007 390h1v1h-1zM859 226h1v1h-1zM1147 283h1v3h-1zM542 290h1v1h-1zM249 302h1v1h-1zM558 270h1v2h-1zM403 252h1v1h-1zM817 385h1v3h-1zM398 257h1v2h-1zM824 364h1v3h-1zM923 381h1v1h-1zM1221 186h1v2h-1zM1256 181h1v1h-1zM84 225h1v1h-1zM779 371h1v2h-1zM14 159h1v2h-1zM87 229h1v2h-1zM661 236h1v1h-1zM653 232h1v1h-1zM36 184h1v1h-1zM705 278h1v2h-1zM88 231h1v1h-1zM253 298h1v1h-1zM757 324h1v2h-1zM335 336h1v1h-1zM1146 286h1v3h-1zM1183 172h1v2h-1zM961 361h1v2h-1zM854 235h1v3h-1zM891 301h1v5h-1zM1089 403h1v1h-1zM174 252h1v2h-1zM1159 238h1v4h-1zM342 330h1v1h-1zM65 201h1v1h-1zM1150 273h1v4h-1zM293 324h1v2h-1zM851 243h1v4h-1zM6 150h1v2h-1zM69 206h1v2h-1zM370 283h1v2h-1zM697 270h1v1h-1zM1186 169h1v1h-1zM31 180h1v1h-1zM1008 391h1v1h-1zM1100 394h1v1h-1zM897 331h1v6h-1zM32 181h1v1h-1zM1009 392h1v1h-1zM827 355h1v3h-1zM841 290h1v6h-1zM957 358h1v1h-1zM1166 207h1v5h-1zM774 358h1v2h-1zM184 264h1v1h-1zM921 377h1v1h-1zM1223 189h1v2h-1zM12 157h1v1h-1zM922 378h1v3h-1zM1149 277h1v3h-1zM1061 393h1v1h-1zM13 158h1v1h-1zM198 282h1v2h-1zM460 289h1v1h-1zM778 368h1v3h-1zM389 265h1v1h-1zM46 191h1v1h-1zM755 322h1v1h-1zM734 299h1v2h-1zM89 232h1v1h-1zM861 223h1v1h-1zM756 323h1v1h-1zM90 233h1v1h-1zM364 292h1v1h-1zM356 305h1v2h-1zM1127 350h1v3h-1zM990 382h1v1h-1zM899 343h1v6h-1zM360 299h1v1h-1zM176 255h1v1h-1zM67 204h1v1h-1zM823 367h1v3h-1zM295 327h1v2h-1zM865 219h1v2h-1zM602 255h1v1h-1zM71 209h1v2h-1zM876 228h1v4h-1zM729 295h1v1h-1zM467 295h1v1h-1zM699 272h1v1h-1zM456 285h1v1h-1zM1011 395h1v1h-1zM700 273h1v1h-1zM769 345h1v2h-1zM766 338h1v3h-1zM1152 266h1v4h-1zM773 355h1v3h-1zM892 306h1v5h-1zM839 301h1v5h-1zM153 233h1v1h-1zM951 362h1v1h-1zM1110 386h1v2h-1zM970 374h1v2h-1zM902 356h1v3h-1zM627 238h1v1h-1zM1079 398h1v1h-1zM138 231h1v1h-1zM18 165h1v1h-1zM1130 341h1v3h-1zM677 252h1v1h-1zM787 387h1v2h-1zM402 253h1v1h-1zM1168 200h1v4h-1zM608 250h1v1h-1zM178 257h1v2h-1zM813 394h1v2h-1zM1255 182h1v1h-1zM875 225h1v3h-1zM1121 366h1v3h-1zM73 212h1v1h-1zM1163 220h1v4h-1zM672 248h1v1h-1zM421 257h1v1h-1zM1187 168h1v1h-1zM793 394h1v1h-1zM1013 397h1v1h-1zM1097 396h1v1h-1zM382 270h1v1h-1zM768 342h1v3h-1zM363 293h1v2h-1zM331 340h1v1h-1zM1077 395h1v1h-1zM534 296h1v1h-1zM1078 396h1v2h-1zM884 264h1v5h-1zM1213 175h1v1h-1zM217 296h1v1h-1zM901 353h1v3h-1zM1133 331h1v4h-1zM1217 180h1v2h-1zM16 162h1v1h-1zM934 386h1v2h-1zM38 186h1v1h-1zM17 163h1v2h-1zM907 369h1v2h-1zM664 239h1v1h-1zM738 304h1v1h-1zM1120 369h1v3h-1zM416 253h1v1h-1zM417 254h1v1h-1zM94 237h1v2h-1zM618 244h1v1h-1zM121 233h1v1h-1zM362 295h1v2h-1zM180 260h1v1h-1zM274 303h1v1h-1zM213 293h1v1h-1zM224 302h1v1h-1zM358 302h1v1h-1zM1174 187h1v1h-1zM225 303h1v1h-1zM548 282h1v1h-1zM206 289h1v1h-1zM388 266h1v1h-1zM781 376h1v2h-1zM752 319h1v1h-1zM354 308h1v3h-1zM849 251h1v4h-1zM559 269h1v1h-1zM423 259h1v1h-1zM1115 379h1v2h-1zM1042 394h1v1h-1zM840 296h1v5h-1zM963 365h1v2h-1zM401 254h1v1h-1zM1215 178h1v1h-1zM318 341h1v1h-1zM974 380h1v2h-1zM396 260h1v1h-1zM1219 183h1v2h-1zM1165 212h1v3h-1zM628 237h1v1h-1zM201 286h1v1h-1zM906 367h1v2h-1zM864 221h1v1h-1zM92 235h1v1h-1zM666 241h1v2h-1zM1018 400h1v1h-1zM879 241h1v5h-1zM1249 189h1v1h-1zM889 290h1v5h-1zM1135 324h1v4h-1zM182 262h1v1h-1zM885 269h1v5h-1zM776 363h1v3h-1zM10 155h1v1h-1zM183 263h1v1h-1zM920 376h1v1h-1zM193 276h1v1h-1zM924 382h1v2h-1zM702 275h1v1h-1zM780 373h1v3h-1zM732 297h1v1h-1zM368 286h1v1h-1zM754 321h1v1h-1zM943 372h1v2h-1zM379 272h1v1h-1zM939 380h1v1h-1zM1180 177h1v1h-1zM962 363h1v2h-1zM954 359h1v1h-1zM1082 401h1v1h-1zM949 365h1v1h-1zM210 291h1v1h-1zM812 396h1v1h-1zM290 320h1v1h-1zM1176 184h1v1h-1zM930 388h1v1h-1zM294 326h1v1h-1zM668 244h1v1h-1zM465 293h1v1h-1zM789 390h1v1h-1zM820 377h1v3h-1zM712 286h1v1h-1zM367 287h1v2h-1zM1138 314h1v3h-1zM1010 393h1v2h-1zM1096 397h1v1h-1zM1129 344h1v3h-1zM713 287h1v1h-1zM1154 258h1v5h-1zM828 352h1v3h-1zM1167 204h1v3h-1zM1179 178h1v2h-1zM775 360h1v3h-1zM933 388h1v1h-1zM75 214h1v1h-1zM894 316h1v5h-1zM195 279h1v1h-1zM185 265h1v2h-1zM1206 174h1v1h-1zM1198 170h1v2h-1zM926 385h1v1h-1zM1175 185h1v2h-1zM704 277h1v1h-1zM837 311h1v5h-1zM735 301h1v1h-1zM819 380h1v3h-1zM708 283h1v1h-1zM1171 192h1v3h-1zM858 227h1v3h-1zM541 291h1v1h-1zM960 360h1v1h-1zM1116 377h1v2h-1zM1111 385h1v1h-1zM158 238h1v1h-1zM873 219h1v3h-1zM978 385h1v1h-1zM220 298h1v1h-1zM292 323h1v1h-1zM357 303h1v2h-1zM221 299h1v1h-1zM1132 335h1v3h-1zM1193 166h1v1h-1zM393 262h1v1h-1zM1027 399h1v1h-1zM1148 280h1v3h-1zM670 246h1v1h-1zM802 402h1v1h-1zM791 392h1v1h-1zM671 247h1v1h-1zM420 256h1v1h-1zM792 393h1v1h-1zM1012 396h1v1h-1zM609 249h1v1h-1zM400 255h1v1h-1zM1123 361h1v3h-1zM216 295h1v1h-1zM187 268h1v2h-1zM822 370h1v4h-1zM310 338h1v1h-1zM197 281h1v1h-1zM948 366h1v1h-1zM15 161h1v1h-1zM78 217h1v2h-1zM1253 184h1v1h-1zM662 237h1v1h-1zM1156 250h1v5h-1zM706 280h1v1h-1zM805 402h1v1h-1zM736 302h1v1h-1zM426 262h1v1h-1zM445 275h1v1h-1zM718 290h1v1h-1zM758 326h1v1h-1zM352 312h1v3h-1zM250 301h1v1h-1zM1185 170h1v1h-1zM848 255h1v5h-1zM759 327h1v2h-1zM762 332h1v1h-1zM332 339h1v1h-1zM835 321h1v5h-1zM1160 233h1v5h-1zM1151 270h1v3h-1zM852 239h1v4h-1zM160 240h1v1h-1zM305 335h1v1h-1zM222 300h1v1h-1zM372 281h1v1h-1zM223 301h1v1h-1zM25 173h1v1h-1zM743 309h1v1h-1zM440 271h1v1h-1zM942 374h1v2h-1zM794 395h1v2h-1zM673 249h1v1h-1zM336 335h1v1h-1zM378 273h1v1h-1zM938 381h1v2h-1zM279 308h1v1h-1zM1070 392h1v1h-1zM343 329h1v1h-1zM301 332h1v1h-1zM199 284h1v1h-1zM200 285h1v1h-1zM908 371h1v1h-1zM447 278h1v1h-1zM39 187h1v1h-1zM91 234h1v1h-1zM760 329h1v1h-1zM1101 393h1v1h-1zM428 264h1v1h-1zM764 335h1v2h-1zM245 305h1v1h-1zM846 265h1v4h-1zM937 383h1v1h-1zM1112 384h1v1h-1zM553 277h1v1h-1zM8 153h1v1h-1zM181 261h1v1h-1zM626 239h1v1h-1zM1028 398h1v1h-1zM545 286h1v2h-1zM795 397h1v1h-1zM796 398h1v1h-1zM540 292h1v1h-1zM556 273h1v1h-1zM1153 263h1v3h-1zM551 279h1v1h-1zM154 234h1v1h-1zM1080 399h1v1h-1zM155 235h1v1h-1zM1081 400h1v1h-1zM1216 179h1v1h-1zM19 166h1v2h-1zM82 222h1v2h-1zM726 293h1v1h-1zM1254 183h1v1h-1zM93 236h1v1h-1zM1169 197h1v3h-1zM955 358h1v1h-1zM349 319h1v1h-1zM770 347h1v3h-1zM952 361h1v1h-1zM288 317h1v1h-1zM844 274h1v5h-1zM298 330h1v1h-1zM947 367h1v1h-1zM1196 168h1v1h-1zM74 213h1v1h-1zM810 398h1v1h-1zM373 279h1v2h-1zM1252 185h1v1h-1zM1197 169h1v1h-1zM684 258h1v1h-1zM783 380h1v2h-1zM422 258h1v1h-1zM1022 402h1v1h-1zM685 259h1v1h-1zM1184 171h1v1h-1zM593 261h1v1h-1zM707 281h1v2h-1zM1094 399h1v1h-1zM882 255h1v5h-1zM348 320h1v2h-1zM156 236h1v1h-1zM966 369h1v2h-1zM157 237h1v1h-1zM1218 182h1v1h-1zM838 306h1v5h-1zM1083 402h1v1h-1zM371 282h1v1h-1zM344 328h1v1h-1zM1222 188h1v1h-1zM21 169h1v1h-1zM739 305h1v1h-1zM95 239h1v1h-1zM669 245h1v1h-1zM790 391h1v1h-1zM118 235h1v1h-1zM163 243h1v1h-1zM825 361h1v3h-1zM275 304h1v1h-1zM276 305h1v1h-1zM904 362h1v3h-1zM226 304h1v1h-1zM1199 172h1v1h-1zM76 215h1v1h-1zM454 283h1v1h-1zM77 216h1v1h-1zM413 251h1v1h-1zM686 260h1v1h-1zM424 260h1v1h-1zM698 271h1v1h-1zM385 268h1v1h-1zM687 261h1v1h-1zM425 261h1v1h-1zM537 294h1v1h-1zM557 272h1v1h-1zM964 367h1v1h-1zM965 368h1v1h-1zM816 388h1v2h-1zM552 278h1v1h-1zM1220 185h1v1h-1zM282 310h1v1h-1zM304 334h1v1h-1zM625 240h1v1h-1zM23 171h1v1h-1zM353 311h1v1h-1zM24 172h1v1h-1zM741 307h1v1h-1zM251 300h1v1h-1zM693 267h1v1h-1zM450 280h1v1h-1zM742 308h1v1h-1zM1170 195h1v2h-1zM857 230h1v1h-1zM330 341h1v1h-1zM815 390h1v2h-1zM4 148h1v1h-1zM277 306h1v1h-1zM227 305h1v1h-1zM629 236h1v1h-1zM903 359h1v3h-1zM278 307h1v1h-1zM188 270h1v1h-1zM1140 307h1v3h-1zM733 298h1v1h-1zM811 397h1v1h-1zM79 219h1v1h-1zM748 314h1v1h-1zM337 334h1v1h-1zM427 263h1v1h-1zM763 333h1v2h-1zM1095 398h1v1h-1zM376 275h1v1h-1zM872 218h1v1h-1zM814 392h1v2h-1zM578 265h1v1h-1zM1122 364h1v2h-1zM809 399h1v1h-1zM680 254h1v1h-1zM1102 392h1v1h-1zM681 255h1v1h-1zM26 174h1v1h-1zM744 310h1v1h-1zM122 232h1v1h-1zM1126 353h1v2h-1zM1134 328h1v3h-1zM935 385h1v1h-1zM1029 397h1v1h-1zM189 271h1v1h-1zM927 386h1v1h-1zM546 285h1v1h-1zM80 220h1v1h-1zM676 251h1v1h-1zM81 221h1v1h-1zM709 284h1v1h-1zM968 372h1v1h-1zM159 239h1v1h-1zM969 373h1v1h-1zM170 248h1v1h-1zM171 249h1v1h-1zM399 256h1v1h-1zM1109 388h1v1h-1zM867 216h1v2h-1zM54 194h1v1h-1zM72 211h1v1h-1zM355 307h1v1h-1zM622 242h1v1h-1zM682 256h1v1h-1zM683 257h1v1h-1zM782 378h1v2h-1zM252 299h1v1h-1zM1006 388h1v2h-1zM606 252h1v1h-1zM166 245h1v1h-1zM918 374h1v1h-1zM191 274h1v1h-1zM9 154h1v1h-1zM192 275h1v1h-1zM1202 174h1v1h-1zM20 168h1v1h-1zM737 303h1v1h-1zM689 263h1v1h-1zM83 224h1v1h-1zM614 246h1v1h-1zM329 342h1v1h-1zM377 274h1v1h-1zM161 241h1v1h-1zM172 250h1v1h-1zM273 302h1v1h-1zM1257 180h1v1h-1zM162 242h1v1h-1zM173 251h1v1h-1zM266 299h1v1h-1zM441 272h1v1h-1zM464 292h1v1h-1zM944 370h1v2h-1zM696 269h1v1h-1zM1119 372h1v1h-1zM30 178h1v2h-1zM453 282h1v1h-1zM333 338h1v1h-1zM985 385h1v1h-1zM142 231h1v1h-1zM11 156h1v1h-1zM1173 188h1v2h-1zM459 288h1v1h-1zM22 170h1v1h-1zM691 265h1v1h-1zM437 269h1v1h-1zM597 258h1v1h-1zM429 265h1v1h-1zM740 306h1v1h-1zM692 266h1v1h-1zM1114 381h1v1h-1zM555 274h1v1h-1zM286 314h1v1h-1zM175 254h1v1h-1zM550 280h1v1h-1zM66 202h1v2h-1zM28 176h1v1h-1zM29 177h1v1h-1zM746 312h1v1h-1zM466 294h1v1h-1zM747 313h1v1h-1zM562 267h1v1h-1zM797 399h1v1h-1zM1117 376h1v1h-1zM870 216h1v1h-1zM607 251h1v1h-1zM866 218h1v1h-1zM110 240h1v1h-1zM196 280h1v1h-1zM1001 384h1v1h-1zM544 288h1v1h-1zM946 368h1v1h-1zM461 290h1v1h-1zM1251 186h1v1h-1zM248 303h1v1h-1zM1093 400h1v1h-1zM853 238h1v1h-1zM177 256h1v1h-1zM925 384h1v1h-1zM5 149h1v1h-1zM57 196h1v1h-1zM68 205h1v1h-1zM1190 166h1v1h-1zM42 189h1v1h-1zM997 381h1v1h-1zM749 315h1v1h-1zM956 357h1v1h-1zM767 341h1v1h-1zM936 384h1v1h-1zM967 371h1v1h-1zM169 247h1v1h-1zM341 331h1v1h-1zM37 185h1v1h-1zM663 238h1v1h-1zM369 285h1v1h-1zM179 259h1v1h-1zM186 267h1v1h-1zM7 152h1v1h-1zM70 208h1v1h-1zM134 229h1v1h-1zM455 284h1v1h-1z"/>
<path fill="#0000cd" d="M190 251h2v1h-2zM631 251h11v1h-11zM691 251h4v1h-4zM230 275h2v1h-2zM431 275h4v1h-4zM1044 391h3v1h-3zM1051 391h4v1h-4zM1067 391h3v1h-3zM1111 391h3v1h-3zM371 310h4v1h-4zM868 310h3v1h-3zM875 310h2v1h-2zM414 281h2v1h-2zM487 281h3v1h-3zM571 281h16v1h-16zM655 246h4v1h-4zM671 246h4v1h-4zM235 278h2v1h-2zM419 278h4v1h-4zM482 278h2v1h-2zM595 278h2v1h-2zM379 308h3v1h-3zM179 245h3v1h-3zM659 245h12v1h-12zM183 247h3v1h-3zM651 247h4v1h-4zM675 247h4v1h-4zM275 298h2v1h-2zM567 282h4v1h-4zM1259 175h10v1h-10zM278 300h2v1h-2zM459 271h12v1h-12zM339 321h7v1h-7zM891 321h8v1h-8zM394 301h2v1h-2zM923 301h3v1h-3zM563 284h3v1h-3zM375 309h4v1h-4zM871 309h4v1h-4zM647 248h4v1h-4zM679 248h4v1h-4zM323 320h16v1h-16zM852 320h2v1h-2zM899 320h2v1h-2zM247 287h4v1h-4zM503 287h4v1h-4zM187 249h2v1h-2zM643 249h4v1h-4zM683 249h4v1h-4zM819 354h2v1h-2zM111 216h16v1h-16zM828 348h2v1h-2zM1047 392h4v1h-4zM435 274h4v1h-4zM475 274h3v1h-3zM707 256h3v1h-3zM539 295h4v1h-4zM618 258h2v1h-2zM711 258h4v1h-4zM623 255h2v1h-2zM703 255h4v1h-4zM1008 380h3v1h-3zM1023 380h4v1h-4zM290 311h2v1h-2zM367 311h4v1h-4zM991 387h7v1h-7zM1038 387h2v1h-2zM1079 398h12v1h-12zM391 303h2v1h-2zM918 303h2v1h-2zM927 303h2v1h-2zM811 357h4v1h-4zM251 288h4v1h-4zM507 288h8v1h-8zM555 288h3v1h-3zM826 349h2v1h-2zM878 312h2v1h-2zM804 355h3v1h-3zM1042 390h2v1h-2zM1055 390h12v1h-12zM439 273h16v1h-16zM920 302h3v1h-3zM294 314h2v1h-2zM863 314h2v1h-2zM807 356h4v1h-4zM815 356h3v1h-3zM423 277h4v1h-4zM738 277h2v1h-2zM1074 395h2v1h-2zM1095 395h4v1h-4zM988 385h2v1h-2zM999 385h3v1h-3zM1035 385h2v1h-2zM626 253h2v1h-2zM699 253h3v1h-3zM232 276h2v1h-2zM427 276h4v1h-4zM479 276h2v1h-2zM598 276h2v1h-2zM1006 381h2v1h-2zM1027 381h3v1h-3zM859 316h3v1h-3zM363 313h3v1h-3zM219 266h2v1h-2zM455 272h4v1h-4zM471 272h3v1h-3zM1099 394h8v1h-8zM303 319h20v1h-20zM347 319h4v1h-4zM888 319h2v1h-2zM1011 379h4v1h-4zM822 352h2v1h-2zM267 294h3v1h-3zM527 294h3v1h-3zM543 294h3v1h-3zM359 315h3v1h-3zM882 315h2v1h-2zM156 236h2v1h-2zM271 296h3v1h-3zM531 296h8v1h-8zM255 289h3v1h-3zM515 289h4v1h-4zM171 243h4v1h-4zM211 262h3v1h-3zM387 305h3v1h-3zM298 317h2v1h-2zM355 317h3v1h-3zM39 167h12v1h-12zM263 292h3v1h-3zM523 292h3v1h-3zM547 292h3v1h-3zM203 261h8v1h-8zM614 261h2v1h-2zM719 261h3v1h-3zM831 346h2v1h-2zM383 306h4v1h-4zM914 306h2v1h-2zM1003 383h2v1h-2zM1031 383h3v1h-3zM259 291h4v1h-4zM300 318h3v1h-3zM351 318h4v1h-4zM855 318h3v1h-3zM886 318h2v1h-2zM51 168h4v1h-4zM1071 393h2v1h-2zM1107 393h3v1h-3zM200 259h2v1h-2zM715 259h3v1h-3zM98 211h2v1h-2zM1015 378h7v1h-7zM194 254h2v1h-2zM27 164h4v1h-4zM1076 396h2v1h-2zM134 221h2v1h-2zM1254 177h2v1h-2zM484 279h2v1h-2zM238 280h2v1h-2zM416 280h2v1h-2zM587 280h7v1h-7zM491 283h3v1h-3zM15 162h4v1h-4zM19 163h8v1h-8zM215 264h3v1h-3zM175 244h4v1h-4zM35 166h4v1h-4zM620 257h2v1h-2zM628 252h3v1h-3zM695 252h4v1h-4zM62 173h2v1h-2zM244 285h2v1h-2zM495 285h4v1h-4zM1115 389h2v1h-2zM100 212h2v1h-2zM1240 187h2v1h-2zM1243 185h2v1h-2zM519 290h3v1h-3zM551 290h3v1h-3zM103 214h4v1h-4zM146 230h2v1h-2zM163 239h3v1h-3zM131 219h2v1h-2zM687 250h4v1h-4zM7 161h8v1h-8zM107 215h4v1h-4zM159 238h4v1h-4zM142 227h2v1h-2zM31 165h4v1h-4zM499 286h4v1h-4zM559 286h3v1h-3zM1250 180h2v1h-2zM222 268h2v1h-2zM138 224h2v1h-2zM167 241h3v1h-3zM978 375h2v1h-2zM154 235h2v1h-2zM127 217h3v1h-3zM148 231h2v1h-2zM59 171h2v1h-2zM723 263h2v1h-2zM1091 397h3v1h-3zM151 233h2v1h-2zM66 176h2v1h-2zM1256 176h3v1h-3zM55 169h3v1h-3zM1238 188h2v1h-2zM4 160h3v1h-3zM1246 183h2v1h-2zM1189 261h1v2h-1zM766 307h1v2h-1zM934 309h1v1h-1zM486 280h1v1h-1zM1181 275h1v2h-1zM1121 382h1v2h-1zM865 313h1v1h-1zM1166 304h1v3h-1zM770 313h1v1h-1zM977 374h1v1h-1zM554 289h1v1h-1zM130 218h1v1h-1zM944 322h1v1h-1zM182 246h1v1h-1zM1185 268h1v2h-1zM1153 334h1v2h-1zM1165 307h1v2h-1zM202 260h1v1h-1zM758 298h1v1h-1zM413 282h1v1h-1zM955 336h1v2h-1zM145 229h1v1h-1zM1213 222h1v1h-1zM759 299h1v1h-1zM85 196h1v2h-1zM1157 326h1v2h-1zM186 248h1v1h-1zM1225 205h1v2h-1zM280 301h1v1h-1zM1249 181h1v1h-1zM1094 396h1v1h-1zM845 329h1v2h-1zM1149 340h1v2h-1zM70 179h1v2h-1zM607 268h1v1h-1zM1117 388h1v1h-1zM242 283h1v1h-1zM1208 228h1v1h-1zM1232 195h1v1h-1zM1041 389h1v1h-1zM795 346h1v1h-1zM744 282h1v1h-1zM286 307h1v1h-1zM1200 242h1v1h-1zM769 311h1v2h-1zM970 364h1v3h-1zM1144 347h1v1h-1zM1124 378h1v1h-1zM750 289h1v1h-1zM530 295h1v1h-1zM1221 211h1v2h-1zM287 308h1v1h-1zM1136 361h1v2h-1zM478 275h1v1h-1zM550 291h1v1h-1zM841 335h1v2h-1zM1180 277h1v2h-1zM382 307h1v1h-1zM751 290h1v1h-1zM1204 235h1v1h-1zM958 341h1v2h-1zM78 188h1v1h-1zM1002 384h1v1h-1zM1216 218h1v1h-1zM910 310h1v1h-1zM1196 249h1v1h-1zM836 342h1v1h-1zM1140 354h1v2h-1zM526 293h1v1h-1zM725 264h1v1h-1zM1188 263h1v1h-1zM474 273h1v1h-1zM983 379h1v1h-1zM1132 368h1v1h-1zM1078 397h1v1h-1zM1164 309h1v3h-1zM1120 384h1v1h-1zM1176 285h1v2h-1zM710 257h1v1h-1zM1037 386h1v1h-1zM984 380h1v1h-1zM821 353h1v1h-1zM1070 392h1v1h-1zM1040 388h1v1h-1zM743 281h1v1h-1zM1192 256h1v1h-1zM197 256h1v1h-1zM732 271h1v1h-1zM1184 270h1v1h-1zM622 256h1v1h-1zM77 187h1v1h-1zM140 225h1v1h-1zM962 349h1v3h-1zM611 264h1v1h-1zM141 226h1v1h-1zM546 293h1v1h-1zM1167 302h1v2h-1zM787 337h1v1h-1zM947 326h1v1h-1zM1156 328h1v2h-1zM405 290h1v1h-1zM802 353h1v1h-1zM998 386h1v1h-1zM1219 214h1v1h-1zM867 311h1v1h-1zM929 304h1v1h-1zM88 201h1v1h-1zM794 345h1v1h-1zM848 325h1v1h-1zM293 313h1v1h-1zM400 296h1v1h-1zM69 178h1v1h-1zM1022 379h1v1h-1zM1143 348h1v2h-1zM366 312h1v1h-1zM825 350h1v1h-1zM972 368h1v2h-1zM1152 336h1v1h-1zM196 255h1v1h-1zM768 310h1v1h-1zM731 270h1v1h-1zM393 302h1v1h-1zM297 316h1v1h-1zM965 356h1v2h-1zM1179 279h1v2h-1zM905 315h1v1h-1zM968 361h1v2h-1zM362 314h1v1h-1zM158 237h1v1h-1zM95 208h1v1h-1zM801 352h1v1h-1zM772 316h1v1h-1zM990 386h1v1h-1zM96 209h1v1h-1zM1139 356h1v1h-1zM346 320h1v1h-1zM234 277h1v1h-1zM754 293h1v2h-1zM1163 312h1v2h-1zM1175 287h1v2h-1zM412 283h1v1h-1zM602 273h1v1h-1zM851 321h1v1h-1zM193 253h1v1h-1zM229 274h1v1h-1zM1123 379h1v2h-1zM1191 257h1v2h-1zM87 199h1v2h-1zM1135 363h1v2h-1zM1207 229h1v2h-1zM281 302h1v1h-1zM136 222h1v1h-1zM170 242h1v1h-1zM761 301h1v1h-1zM1228 200h1v1h-1zM1162 314h1v3h-1zM1231 196h1v1h-1zM1171 294h1v2h-1zM282 303h1v1h-1zM971 367h1v1h-1zM746 284h1v2h-1zM935 310h1v1h-1zM912 308h1v1h-1zM1195 250h1v2h-1zM964 354h1v2h-1zM358 316h1v1h-1zM1187 264h1v2h-1zM1155 330h1v2h-1zM1203 236h1v2h-1zM916 305h1v1h-1zM779 326h1v2h-1zM166 240h1v1h-1zM946 324h1v2h-1zM289 310h1v1h-1zM1170 296h1v2h-1zM844 331h1v1h-1zM65 175h1v1h-1zM847 326h1v2h-1zM753 292h1v1h-1zM790 340h1v2h-1zM609 266h1v1h-1zM950 329h1v2h-1zM192 252h1v1h-1zM1210 225h1v2h-1zM1183 271h1v2h-1zM1151 337h1v2h-1zM1199 243h1v2h-1zM1234 192h1v2h-1zM760 300h1v1h-1zM986 382h1v2h-1zM72 182h1v1h-1zM1146 344h1v2h-1zM967 359h1v2h-1zM407 288h1v1h-1zM1174 289h1v2h-1zM771 314h1v2h-1zM939 315h1v2h-1zM774 318h1v2h-1zM1218 215h1v2h-1zM963 352h1v2h-1zM150 232h1v1h-1zM838 339h1v2h-1zM61 172h1v1h-1zM775 320h1v1h-1zM850 322h1v2h-1zM288 309h1v1h-1zM402 293h1v2h-1zM1142 350h1v2h-1zM862 315h1v1h-1zM885 317h1v1h-1zM277 299h1v1h-1zM1005 382h1v1h-1zM1131 369h1v1h-1zM1134 365h1v1h-1zM1215 219h1v1h-1zM866 312h1v1h-1zM907 313h1v1h-1zM949 328h1v1h-1zM89 202h1v1h-1zM1253 178h1v1h-1zM1126 375h1v2h-1zM71 181h1v1h-1zM1138 357h1v3h-1zM90 203h1v1h-1zM727 266h1v1h-1zM796 347h1v1h-1zM613 262h1v1h-1zM1242 186h1v1h-1zM745 283h1v1h-1zM985 381h1v1h-1zM937 312h1v2h-1zM966 358h1v1h-1zM797 348h1v1h-1zM258 290h1v1h-1zM884 316h1v1h-1zM974 371h1v1h-1zM604 271h1v1h-1zM198 257h1v1h-1zM778 324h1v2h-1zM938 314h1v1h-1zM752 291h1v1h-1zM597 277h1v1h-1zM199 258h1v1h-1zM1206 231h1v2h-1zM97 210h1v1h-1zM734 273h1v1h-1zM803 354h1v1h-1zM782 331h1v1h-1zM1198 245h1v2h-1zM224 269h1v1h-1zM835 343h1v1h-1zM79 189h1v1h-1zM1230 197h1v2h-1zM858 317h1v1h-1zM601 274h1v1h-1zM1233 194h1v1h-1zM726 265h1v1h-1zM788 338h1v1h-1zM399 297h1v1h-1zM225 270h1v1h-1zM1122 381h1v1h-1zM1178 281h1v2h-1zM789 339h1v1h-1zM1154 332h1v2h-1zM833 345h1v1h-1zM1202 238h1v2h-1zM762 302h1v2h-1zM930 305h1v1h-1zM1194 252h1v2h-1zM418 279h1v1h-1zM763 304h1v1h-1zM1186 266h1v2h-1zM733 272h1v1h-1zM973 370h1v1h-1zM1141 352h1v2h-1zM1130 370h1v2h-1zM1169 298h1v2h-1zM266 293h1v1h-1zM781 329h1v2h-1zM1190 259h1v2h-1zM948 327h1v1h-1zM722 262h1v1h-1zM1182 273h1v2h-1zM1145 346h1v1h-1zM1125 377h1v1h-1zM608 267h1v1h-1zM1161 317h1v2h-1zM755 295h1v1h-1zM1137 360h1v1h-1zM1173 291h1v2h-1zM1034 384h1v1h-1zM82 192h1v2h-1zM880 313h1v1h-1zM718 260h1v1h-1zM987 384h1v1h-1zM137 223h1v1h-1zM397 299h1v1h-1zM1160 319h1v3h-1zM969 363h1v1h-1zM1133 366h1v2h-1zM1030 382h1v1h-1zM1205 233h1v2h-1zM1217 217h1v1h-1zM773 317h1v1h-1zM1114 390h1v1h-1zM902 318h1v1h-1zM284 305h1v1h-1zM941 318h1v1h-1zM748 287h1v1h-1zM390 304h1v1h-1zM1224 207h1v1h-1zM1177 283h1v2h-1zM777 322h1v2h-1zM1209 227h1v1h-1zM1212 223h1v1h-1zM1236 190h1v1h-1zM926 302h1v1h-1zM1201 240h1v2h-1zM1248 182h1v1h-1zM1148 342h1v1h-1zM1193 254h1v2h-1zM791 342h1v1h-1zM409 286h1v1h-1zM740 278h1v1h-1zM980 376h1v1h-1zM1252 179h1v1h-1zM792 343h1v1h-1zM406 289h1v1h-1zM283 304h1v1h-1zM1197 247h1v2h-1zM837 341h1v1h-1zM747 286h1v1h-1zM936 311h1v1h-1zM73 183h1v1h-1zM603 272h1v1h-1zM729 268h1v1h-1zM849 324h1v1h-1zM818 355h1v1h-1zM74 184h1v1h-1zM780 328h1v1h-1zM940 317h1v1h-1zM909 311h1v1h-1zM799 350h1v1h-1zM783 332h1v2h-1zM189 250h1v1h-1zM1128 373h1v1h-1zM776 321h1v1h-1zM784 334h1v1h-1zM642 250h1v1h-1zM80 190h1v1h-1zM951 331h1v1h-1zM736 275h1v1h-1zM133 220h1v1h-1zM81 191h1v1h-1zM606 269h1v1h-1zM728 267h1v1h-1zM1168 300h1v2h-1zM227 272h1v1h-1zM890 320h1v1h-1zM1220 213h1v1h-1zM840 337h1v1h-1zM765 306h1v1h-1zM92 205h1v1h-1zM975 372h1v1h-1zM401 295h1v1h-1zM798 349h1v1h-1zM404 291h1v1h-1zM976 373h1v1h-1zM1227 201h1v2h-1zM906 314h1v1h-1zM961 347h1v2h-1zM1172 293h1v1h-1zM1159 322h1v2h-1zM824 351h1v1h-1zM481 277h1v1h-1zM757 297h1v1h-1zM954 335h1v1h-1zM904 316h1v1h-1zM932 307h1v1h-1zM91 204h1v1h-1zM102 213h1v1h-1zM625 254h1v1h-1zM144 228h1v1h-1zM1223 208h1v2h-1zM843 332h1v2h-1zM764 305h1v1h-1zM241 282h1v1h-1zM610 265h1v1h-1zM942 319h1v2h-1zM274 297h1v1h-1zM735 274h1v1h-1zM943 321h1v1h-1zM1119 385h1v1h-1zM953 333h1v2h-1zM913 307h1v1h-1zM854 319h1v1h-1zM226 271h1v1h-1zM594 279h1v1h-1zM270 295h1v1h-1zM917 304h1v1h-1zM957 339h1v2h-1zM617 259h1v1h-1zM931 306h1v1h-1zM396 300h1v1h-1zM702 254h1v1h-1zM240 281h1v1h-1zM881 314h1v1h-1zM58 170h1v1h-1zM901 319h1v1h-1zM1214 220h1v2h-1zM411 284h1v1h-1zM285 306h1v1h-1zM1226 203h1v2h-1zM1235 191h1v1h-1zM749 288h1v1h-1zM1158 324h1v2h-1zM1073 394h1v1h-1zM1147 343h1v1h-1zM1127 374h1v1h-1zM76 186h1v1h-1zM960 345h1v2h-1zM522 291h1v1h-1zM408 287h1v1h-1zM756 296h1v1h-1zM786 336h1v1h-1zM83 194h1v1h-1zM237 279h1v1h-1zM741 279h1v1h-1zM84 195h1v1h-1zM911 309h1v1h-1zM218 265h1v1h-1zM793 344h1v1h-1zM742 280h1v1h-1zM982 378h1v1h-1zM68 177h1v1h-1zM566 283h1v1h-1zM908 312h1v1h-1zM846 328h1v1h-1zM221 267h1v1h-1zM1118 386h1v2h-1zM767 309h1v1h-1zM1110 392h1v1h-1zM1150 339h1v1h-1zM296 315h1v1h-1zM1211 224h1v1h-1zM75 185h1v1h-1zM94 207h1v1h-1zM214 263h1v1h-1zM800 351h1v1h-1zM959 343h1v2h-1zM605 270h1v1h-1zM877 311h1v1h-1zM952 332h1v1h-1zM981 377h1v1h-1zM153 234h1v1h-1zM956 338h1v1h-1zM1222 210h1v1h-1zM839 338h1v1h-1zM830 347h1v1h-1zM403 292h1v1h-1zM93 206h1v1h-1zM730 269h1v1h-1zM562 285h1v1h-1zM834 344h1v1h-1zM1229 199h1v1h-1zM494 284h1v1h-1zM398 298h1v1h-1zM558 287h1v1h-1zM243 284h1v1h-1zM785 335h1v1h-1zM246 286h1v1h-1zM737 276h1v1h-1zM612 263h1v1h-1zM945 323h1v1h-1zM903 317h1v1h-1zM64 174h1v1h-1zM616 260h1v1h-1zM842 334h1v1h-1zM490 282h1v1h-1zM228 273h1v1h-1zM1237 189h1v1h-1zM86 198h1v1h-1zM292 312h1v1h-1zM1129 372h1v1h-1zM933 308h1v1h-1zM1245 184h1v1h-1zM410 285h1v1h-1zM600 275h1v1h-1z"/>
</g>
<path d="M1272 25h10l-5 5.5z" fill="#c0c0c0"/>
<g shape-rendering="crispEdges">
<line x1="4" x2="1596" y1="560.5" y2="560.5" stroke="#c0c0c0" stroke-width="1" stroke-dasharray="3 3"/>
<line x1="4" x2="1596" y1="596.5" y2="596.5" stroke="#c0c0c0" stroke-width="1" stroke-dasharray="3 3"/>
<path fill="#1e90ff" d="M359 561h2v1h-2zM606 561h2v1h-2zM36 585h3v1h-3zM172 585h2v1h-2zM211 585h3v1h-3zM478 585h2v1h-2zM668 585h6v1h-6zM727 585h2v1h-2zM928 585h2v1h-2zM995 585h4v1h-4zM1010 585h2v1h-2zM1042 585h2v1h-2zM1047 585h2v1h-2zM1072 585h2v1h-2zM39 586h4v1h-4zM207 586h4v1h-4zM243 586h2v1h-2zM260 586h2v1h-2zM266 586h2v1h-2zM480 586h2v1h-2zM898 586h2v1h-2zM935 586h4v1h-4zM999 586h4v1h-4zM1044 586h3v1h-3zM362 563h2v1h-2zM603 563h2v1h-2zM1123 563h4v1h-4zM12 582h6v1h-6zM220 582h2v1h-2zM306 582h2v1h-2zM416 582h5v1h-5zM636 582h2v1h-2zM643 582h4v1h-4zM944 582h3v1h-3zM972 582h2v1h-2zM978 582h2v1h-2zM983 582h8v1h-8zM1055 582h3v1h-3zM1067 582h2v1h-2zM395 570h2v1h-2zM552 570h2v1h-2zM808 570h5v1h-5zM1090 570h2v1h-2zM1183 570h2v1h-2zM1255 570h2v1h-2zM367 566h2v1h-2zM400 566h2v1h-2zM407 566h3v1h-3zM558 566h2v1h-2zM19 584h2v1h-2zM130 584h2v1h-2zM223 584h2v1h-2zM263 584h2v1h-2zM502 584h3v1h-3zM639 584h3v1h-3zM975 584h2v1h-2zM1012 584h3v1h-3zM1059 584h2v1h-2zM1070 584h2v1h-2zM1079 584h2v1h-2zM43 587h8v1h-8zM175 587h4v1h-4zM215 587h2v1h-2zM298 587h2v1h-2zM675 587h2v1h-2zM931 587h4v1h-4zM939 587h2v1h-2zM1003 587h6v1h-6zM100 577h5v1h-5zM112 577h2v1h-2zM119 577h4v1h-4zM471 577h2v1h-2zM530 577h2v1h-2zM590 577h2v1h-2zM662 577h2v1h-2zM719 577h2v1h-2zM867 577h2v1h-2zM916 577h5v1h-5zM1103 577h4v1h-4zM1196 577h5v1h-5zM1216 577h7v1h-7zM771 606h7v1h-7zM782 606h2v1h-2zM823 555h2v1h-2zM1159 555h4v1h-4zM32 589h2v1h-2zM143 589h4v1h-4zM155 589h4v1h-4zM227 589h2v1h-2zM428 589h5v1h-5zM440 589h7v1h-7zM495 589h2v1h-2zM803 589h2v1h-2zM332 573h5v1h-5zM376 573h2v1h-2zM536 573h3v1h-3zM620 573h5v1h-5zM1086 573h2v1h-2zM1235 573h2v1h-2zM1266 573h2v1h-2zM820 557h2v1h-2zM1148 557h10v1h-10zM79 591h3v1h-3zM139 591h3v1h-3zM279 591h4v1h-4zM287 591h2v1h-2zM688 591h2v1h-2zM839 552h2v1h-2zM195 600h6v1h-6zM92 590h5v1h-5zM136 590h3v1h-3zM147 590h8v1h-8zM159 590h2v1h-2zM276 590h3v1h-3zM283 590h4v1h-4zM447 590h2v1h-2zM491 590h4v1h-4zM799 590h4v1h-4zM892 590h2v1h-2zM308 583h2v1h-2zM724 583h2v1h-2zM947 583h2v1h-2zM991 583h3v1h-3zM1015 583h3v1h-3zM1075 583h4v1h-4zM374 572h2v1h-2zM390 572h2v1h-2zM511 572h8v1h-8zM564 572h2v1h-2zM911 572h2v1h-2zM1115 572h2v1h-2zM27 581h2v1h-2zM251 581h6v1h-6zM311 581h6v1h-6zM452 581h3v1h-3zM574 581h2v1h-2zM647 581h3v1h-3zM655 581h2v1h-2zM859 581h6v1h-6zM963 581h2v1h-2zM980 581h3v1h-3zM1019 581h2v1h-2zM1052 581h3v1h-3zM51 588h2v1h-2zM179 588h2v1h-2zM204 588h2v1h-2zM426 588h2v1h-2zM483 588h7v1h-7zM895 588h2v1h-2zM24 579h2v1h-2zM164 579h3v1h-3zM248 579h2v1h-2zM468 579h2v1h-2zM527 579h2v1h-2zM580 579h3v1h-3zM587 579h2v1h-2zM651 579h3v1h-3zM952 579h3v1h-3zM959 579h3v1h-3zM330 574h2v1h-2zM343 574h2v1h-2zM387 574h2v1h-2zM508 574h2v1h-2zM534 574h2v1h-2zM539 574h2v1h-2zM567 574h2v1h-2zM907 574h3v1h-3zM1188 574h5v1h-5zM76 592h3v1h-3zM695 592h2v1h-2zM734 592h2v1h-2zM788 592h10v1h-10zM123 576h2v1h-2zM340 576h2v1h-2zM383 576h3v1h-3zM460 576h5v1h-5zM904 576h2v1h-2zM1194 576h2v1h-2zM1223 576h4v1h-4zM1240 576h3v1h-3zM1247 576h2v1h-2zM544 569h2v1h-2zM550 569h2v1h-2zM1028 569h2v1h-2zM1172 569h2v1h-2zM1178 569h2v1h-2zM1252 569h3v1h-3zM700 595h3v1h-3zM392 571h3v1h-3zM519 571h2v1h-2zM626 571h3v1h-3zM1031 571h2v1h-2zM1094 571h2v1h-2zM1112 571h3v1h-3zM1175 571h2v1h-2zM883 597h4v1h-4zM167 580h2v1h-2zM239 580h2v1h-2zM455 580h2v1h-2zM524 580h3v1h-3zM578 580h2v1h-2zM856 580h3v1h-3zM1064 580h2v1h-2zM56 596h2v1h-2zM71 596h2v1h-2zM703 596h6v1h-6zM743 596h3v1h-3zM880 596h3v1h-3zM411 568h2v1h-2zM555 568h2v1h-2zM1180 568h2v1h-2zM1258 568h2v1h-2zM232 578h6v1h-6zM466 578h2v1h-2zM583 578h4v1h-4zM716 578h3v1h-3zM955 578h4v1h-4zM1100 578h3v1h-3zM1107 578h2v1h-2zM547 567h2v1h-2zM596 567h2v1h-2zM767 605h4v1h-4zM355 562h4v1h-4zM611 562h2v1h-2zM1131 562h3v1h-3zM115 575h3v1h-3zM338 575h2v1h-2zM379 575h4v1h-4zM1227 575h7v1h-7zM1238 575h2v1h-2zM1243 575h4v1h-4zM6 594h2v1h-2zM698 594h2v1h-2zM739 594h3v1h-3zM758 603h2v1h-2zM760 604h7v1h-7zM836 553h3v1h-3zM1167 553h2v1h-2zM83 593h2v1h-2zM290 593h2v1h-2zM691 593h4v1h-4zM736 593h3v1h-3zM608 560h2v1h-2zM1135 560h2v1h-2zM599 565h3v1h-3zM1120 565h2v1h-2zM59 598h2v1h-2zM68 598h2v1h-2zM188 598h3v1h-3zM747 598h4v1h-4zM887 598h2v1h-2zM352 564h2v1h-2zM364 564h2v1h-2zM403 564h3v1h-3zM1127 564h3v1h-3zM830 559h2v1h-2zM1142 554h2v1h-2zM1163 554h4v1h-4zM191 599h4v1h-4zM751 599h3v1h-3zM755 601h2v1h-2zM842 550h3v1h-3zM779 608h2v1h-2zM1039 582h1v1h-1zM504 585h1v1h-1zM941 586h1v1h-1zM816 564h1v2h-1zM473 578h1v2h-1zM219 583h1v1h-1zM1169 556h1v3h-1zM1040 583h1v1h-1zM1177 570h1v1h-1zM1146 555h1v1h-1zM161 586h1v3h-1zM1009 586h1v1h-1zM507 576h1v3h-1zM413 570h1v4h-1zM853 567h1v4h-1zM134 587h1v2h-1zM89 597h1v3h-1zM561 566h1v2h-1zM1158 556h1v1h-1zM1096 572h1v1h-1zM667 583h1v2h-1zM1147 556h1v1h-1zM542 571h1v2h-1zM5 595h1v1h-1zM229 586h1v3h-1zM1203 572h1v2h-1zM846 553h1v3h-1zM1172 567h1v2h-1zM1097 573h1v2h-1zM268 587h1v1h-1zM827 559h1v2h-1zM659 576h1v2h-1zM73 595h1v1h-1zM902 580h1v2h-1zM54 591h1v3h-1zM721 578h1v2h-1zM871 583h1v2h-1zM470 578h1v1h-1zM451 583h1v2h-1zM222 583h1v1h-1zM32 590h1v1h-1zM35 586h1v1h-1zM872 585h1v2h-1zM1084 575h1v2h-1zM329 575h1v1h-1zM685 588h1v1h-1zM97 586h1v3h-1zM614 564h1v1h-1zM971 580h1v2h-1zM257 582h1v1h-1zM890 593h1v3h-1zM522 575h1v2h-1zM29 583h1v2h-1zM324 581h1v1h-1zM618 569h1v2h-1zM230 583h1v3h-1zM271 584h1v1h-1zM712 586h1v3h-1zM450 585h1v2h-1zM1024 574h1v1h-1zM293 593h1v1h-1zM1099 576h1v2h-1zM807 573h1v5h-1zM576 582h1v1h-1zM1206 568h1v2h-1zM849 560h1v2h-1zM966 578h1v2h-1zM1260 567h1v1h-1zM546 568h1v1h-1zM66 596h1v1h-1zM169 581h1v1h-1zM1237 574h1v1h-1zM757 602h1v1h-1zM674 586h1v1h-1zM1187 573h1v1h-1zM111 576h1v1h-1zM716 579h1v1h-1zM925 582h1v1h-1zM245 585h1v1h-1zM826 558h1v1h-1zM301 584h1v2h-1zM697 593h1v1h-1zM594 571h1v2h-1zM415 577h1v4h-1zM58 597h1v1h-1zM835 554h1v1h-1zM875 590h1v2h-1zM610 561h1v1h-1zM305 581h1v1h-1zM815 566h1v1h-1zM218 584h1v2h-1zM1088 572h1v1h-1zM31 587h1v2h-1zM317 582h1v1h-1zM1038 580h1v2h-1zM160 589h1v1h-1zM506 579h1v2h-1zM1092 569h1v1h-1zM822 556h1v1h-1zM746 597h1v1h-1zM549 568h1v1h-1zM65 595h1v1h-1zM560 565h1v1h-1zM1168 554h1v2h-1zM1251 570h1v2h-1zM434 587h1v1h-1zM563 570h1v2h-1zM28 582h1v1h-1zM625 572h1v1h-1zM457 579h1v1h-1zM1062 582h1v1h-1zM666 581h1v2h-1zM658 578h1v1h-1zM61 597h1v1h-1zM1027 570h1v1h-1zM1141 555h1v1h-1zM321 584h1v1h-1zM819 559h1v1h-1zM951 580h1v1h-1zM962 580h1v1h-1zM1186 572h1v1h-1zM723 581h1v2h-1zM742 595h1v1h-1zM852 565h1v2h-1zM711 589h1v2h-1zM1134 561h1v1h-1zM1049 584h1v1h-1zM570 576h1v2h-1zM275 588h1v2h-1zM977 583h1v1h-1zM88 600h1v2h-1zM202 593h1v3h-1zM635 581h1v1h-1zM571 578h1v1h-1zM183 591h1v1h-1zM845 551h1v2h-1zM248 580h1v1h-1zM373 571h1v1h-1zM449 587h1v2h-1zM30 585h1v2h-1zM541 573h1v1h-1zM490 589h1v1h-1zM878 594h1v1h-1zM187 596h1v2h-1zM970 579h1v1h-1zM1122 564h1v1h-1zM617 567h1v2h-1zM1111 572h1v2h-1zM12 583h1v1h-1zM901 582h1v2h-1zM475 581h1v2h-1zM107 573h1v1h-1zM715 580h1v2h-1zM476 583h1v1h-1zM244 587h1v1h-1zM300 586h1v1h-1zM665 579h1v2h-1zM894 589h1v1h-1zM1117 570h1v2h-1zM654 580h1v1h-1zM1083 577h1v2h-1zM1098 575h1v1h-1zM866 578h1v2h-1zM834 555h1v2h-1zM848 558h1v2h-1zM605 562h1v1h-1zM1174 570h1v1h-1zM722 580h1v1h-1zM206 587h1v1h-1zM1138 558h1v1h-1zM680 583h1v1h-1zM11 584h1v3h-1zM1130 563h1v1h-1zM1171 564h1v3h-1zM806 578h1v4h-1zM892 591h1v1h-1zM818 560h1v3h-1zM274 586h1v2h-1zM84 594h1v1h-1zM681 584h1v1h-1zM786 597h1v4h-1zM870 580h1v3h-1zM1030 570h1v1h-1zM87 599h1v1h-1zM414 574h1v3h-1zM642 583h1v1h-1zM1250 572h1v2h-1zM969 577h1v2h-1zM351 565h1v1h-1zM677 586h1v1h-1zM258 583h1v2h-1zM250 580h1v1h-1zM593 573h1v2h-1zM1209 567h1v2h-1zM930 586h1v1h-1zM710 591h1v2h-1zM1023 575h1v2h-1zM1041 584h1v1h-1zM687 590h1v1h-1zM532 576h1v1h-1zM1182 569h1v1h-1zM805 582h1v5h-1zM259 585h1v1h-1zM270 585h1v1h-1zM91 592h1v3h-1zM616 566h1v1h-1zM730 587h1v2h-1zM1202 574h1v1h-1zM346 571h1v2h-1zM75 593h1v1h-1zM1205 570h1v1h-1zM421 583h1v1h-1zM201 596h1v3h-1zM1018 582h1v1h-1zM505 581h1v3h-1zM243 585h1v1h-1zM34 587h1v2h-1zM422 584h1v1h-1zM497 587h1v2h-1zM171 584h1v1h-1zM847 556h1v2h-1zM1262 569h1v1h-1zM855 575h1v4h-1zM90 595h1v2h-1zM436 585h1v1h-1zM1170 559h1v5h-1zM877 593h1v1h-1zM185 593h1v2h-1zM326 578h1v2h-1zM262 585h1v1h-1zM657 579h1v2h-1zM437 586h1v1h-1zM900 584h1v2h-1zM1026 571h1v2h-1zM106 574h1v2h-1zM323 582h1v1h-1zM186 595h1v1h-1zM1082 579h1v2h-1zM965 580h1v1h-1zM369 567h1v1h-1zM968 576h1v1h-1zM22 581h1v2h-1zM619 571h1v2h-1zM474 580h1v1h-1zM118 576h1v1h-1zM246 582h1v3h-1zM433 588h1v1h-1zM1208 566h1v1h-1zM854 571h1v4h-1zM319 584h1v1h-1zM98 582h1v4h-1zM729 586h1v1h-1zM18 583h1v1h-1zM1212 572h1v1h-1zM888 597h1v1h-1zM950 581h1v1h-1zM303 581h1v2h-1zM566 573h1v1h-1zM170 582h1v2h-1zM273 584h1v2h-1zM904 577h1v1h-1zM926 583h1v1h-1zM86 596h1v3h-1zM592 575h1v2h-1zM204 589h1v1h-1zM927 584h1v1h-1zM459 577h1v1h-1zM345 573h1v1h-1zM63 595h1v1h-1zM1074 584h1v1h-1zM573 580h1v1h-1zM869 578h1v2h-1zM292 594h1v1h-1zM295 590h1v1h-1zM242 583h1v2h-1zM10 587h1v2h-1zM785 601h1v3h-1zM337 574h1v1h-1zM1051 582h1v1h-1zM399 567h1v1h-1zM410 567h1v1h-1zM203 590h1v3h-1zM661 576h1v1h-1zM265 585h1v1h-1zM664 578h1v1h-1zM1261 568h1v1h-1zM67 597h1v1h-1zM500 582h1v1h-1zM596 568h1v1h-1zM679 584h1v1h-1zM1022 577h1v2h-1zM709 593h1v2h-1zM378 574h1v1h-1zM406 565h1v1h-1zM501 583h1v1h-1zM52 589h1v1h-1zM630 573h1v3h-1zM85 595h1v1h-1zM682 585h1v1h-1zM348 569h1v1h-1zM808 571h1v2h-1zM714 582h1v2h-1zM318 583h1v1h-1zM184 592h1v1h-1zM482 587h1v1h-1zM683 586h1v1h-1zM1093 570h1v1h-1zM844 549h1v1h-1zM70 597h1v1h-1zM1211 570h1v2h-1zM361 562h1v1h-1zM477 584h1v1h-1zM1033 572h1v2h-1zM660 575h1v1h-1zM1140 556h1v1h-1zM241 581h1v2h-1zM523 577h1v2h-1zM804 587h1v2h-1zM732 590h1v1h-1zM557 567h1v1h-1zM1249 574h1v2h-1zM891 592h1v1h-1zM1081 581h1v2h-1zM423 585h1v1h-1zM231 580h1v3h-1zM142 590h1v1h-1zM55 594h1v1h-1zM424 586h1v1h-1zM397 569h1v1h-1zM435 586h1v1h-1zM9 589h1v3h-1zM310 582h1v1h-1zM572 579h1v1h-1zM272 583h1v1h-1zM21 583h1v1h-1zM784 604h1v2h-1zM879 595h1v1h-1zM302 583h1v1h-1zM788 593h1v1h-1zM74 594h1v1h-1zM1268 574h1v1h-1zM754 600h1v1h-1zM200 599h1v1h-1zM1210 569h1v1h-1zM903 578h1v2h-1zM499 583h1v2h-1zM1085 574h1v1h-1zM865 580h1v1h-1zM731 589h1v1h-1zM1214 574h1v2h-1zM1089 571h1v1h-1zM921 578h1v1h-1zM1058 583h1v1h-1zM325 580h1v1h-1zM922 579h1v1h-1zM914 574h1v2h-1zM294 591h1v2h-1zM632 577h1v2h-1zM967 577h1v1h-1zM465 577h1v1h-1zM633 579h1v1h-1zM416 581h1v1h-1zM162 584h1v2h-1zM214 586h1v1h-1zM508 575h1v1h-1zM438 587h1v1h-1zM1035 576h1v2h-1zM1119 566h1v2h-1zM910 573h1v1h-1zM595 569h1v2h-1zM868 576h1v1h-1zM439 588h1v1h-1zM1036 578h1v1h-1zM127 580h1v2h-1zM4 596h1v1h-1zM787 594h1v3h-1zM814 567h1v2h-1zM328 576h1v1h-1zM100 578h1v1h-1zM1263 570h1v1h-1zM708 595h1v1h-1zM1110 574h1v2h-1zM856 579h1v1h-1zM164 580h1v1h-1zM458 578h1v1h-1zM62 596h1v1h-1zM943 583h1v1h-1zM389 573h1v1h-1zM108 572h1v1h-1zM598 566h1v1h-1zM99 579h1v3h-1zM602 564h1v1h-1zM370 568h1v1h-1zM225 585h1v2h-1zM1050 583h1v1h-1zM1034 574h1v2h-1zM320 585h1v1h-1zM906 575h1v1h-1zM8 592h1v2h-1zM1213 573h1v1h-1zM1080 583h1v1h-1zM1069 583h1v1h-1zM350 566h1v2h-1zM974 583h1v1h-1zM412 569h1v1h-1zM96 589h1v1h-1zM913 573h1v1h-1zM297 588h1v1h-1zM217 586h1v1h-1zM1201 575h1v2h-1zM92 591h1v1h-1zM1118 568h1v2h-1zM498 585h1v2h-1zM289 592h1v1h-1zM628 570h1v1h-1zM829 560h1v1h-1zM798 591h1v1h-1zM232 579h1v1h-1zM452 582h1v1h-1zM126 579h1v1h-1zM684 587h1v1h-1zM1061 583h1v1h-1zM163 581h1v3h-1zM833 557h1v1h-1zM613 563h1v1h-1zM1145 554h1v1h-1zM897 587h1v1h-1zM1137 559h1v1h-1zM529 578h1v1h-1zM521 573h1v2h-1zM817 563h1v1h-1zM942 584h1v2h-1zM448 589h1v1h-1zM533 575h1v1h-1zM577 581h1v1h-1zM366 565h1v1h-1zM23 580h1v1h-1zM347 570h1v1h-1zM53 590h1v1h-1zM650 580h1v1h-1zM631 576h1v1h-1zM56 595h1v1h-1zM924 581h1v1h-1zM726 584h1v1h-1zM269 586h1v1h-1zM874 589h1v1h-1zM125 577h1v2h-1zM228 590h1v1h-1zM1109 576h1v2h-1zM638 583h1v1h-1zM1144 553h1v1h-1zM589 578h1v1h-1zM1037 579h1v1h-1zM524 579h1v1h-1zM733 591h1v1h-1zM64 594h1v1h-1zM841 551h1v1h-1zM327 577h1v1h-1zM520 572h1v1h-1zM132 585h1v1h-1zM247 581h1v1h-1zM778 607h1v1h-1zM110 574h1v2h-1zM425 587h1v1h-1zM510 573h1v1h-1zM1257 569h1v1h-1zM133 586h1v1h-1zM543 570h1v1h-1zM1025 573h1v1h-1zM1193 575h1v1h-1zM825 556h1v2h-1zM354 563h1v1h-1zM923 580h1v1h-1zM889 596h1v1h-1zM1204 571h1v1h-1zM304 580h1v1h-1zM873 587h1v2h-1zM634 580h1v1h-1zM182 590h1v1h-1zM1021 579h1v2h-1zM26 580h1v1h-1zM949 582h1v1h-1zM813 569h1v1h-1zM227 588h1v1h-1zM342 575h1v1h-1zM562 568h1v2h-1zM1215 576h1v1h-1zM114 576h1v1h-1zM713 584h1v2h-1zM690 592h1v1h-1zM1185 571h1v1h-1zM851 563h1v2h-1zM296 589h1v1h-1zM820 558h1v1h-1zM915 576h1v1h-1zM1063 581h1v1h-1zM1264 571h1v1h-1zM181 589h1v1h-1zM322 583h1v1h-1zM82 592h1v1h-1zM1265 572h1v1h-1zM174 586h1v1h-1zM629 572h1v1h-1zM554 569h1v1h-1zM1207 567h1v1h-1zM828 561h1v1h-1zM398 568h1v1h-1zM371 569h1v1h-1zM128 582h1v1h-1zM402 565h1v1h-1zM349 568h1v1h-1zM372 570h1v1h-1zM686 589h1v1h-1zM129 583h1v1h-1zM781 607h1v1h-1zM615 565h1v1h-1zM105 576h1v1h-1zM135 589h1v1h-1zM850 562h1v1h-1zM109 573h1v1h-1zM569 575h1v1h-1zM1139 557h1v1h-1zM226 587h1v1h-1zM832 558h1v1h-1zM876 592h1v1h-1zM994 584h1v1h-1zM238 579h1v1h-1zM386 575h1v1h-1zM678 585h1v1h-1zM1234 574h1v1h-1zM1066 581h1v1h-1z"/>
<path fill="#c0c0c0" d="M4 682h1v3h-1zM8 682h1v4h-1zM12 682h1v4h-1zM16 682h1v4h-1zM20 682h1v4h-1zM24 682h1v4h-1zM28 682h1v3h-1zM32 682h1v5h-1zM36 682h1v5h-1zM40 682h1v6h-1zM44 682h1v6h-1zM48 682h1v6h-1zM52 682h1v7h-1zM56 682h1v9h-1zM60 682h1v11h-1zM64 682h1v12h-1zM68 682h1v13h-1zM72 682h1v14h-1zM76 682h1v14h-1zM80 682h1v14h-1zM84 682h1v14h-1zM88 682h1v16h-1zM92 682h1v16h-1zM96 682h1v16h-1zM100 682h1v13h-1zM104 682h1v11h-1zM108 682h1v7h-1zM112 682h1v6h-1zM116 682h1v4h-1zM120 682h1v2h-1zM124 682h1v1h-1zM128 682h1v2h-1zM132 682h1v3h-1zM136 682h1v5h-1zM140 682h1v7h-1zM144 682h1v9h-1zM148 682h1v10h-1zM152 682h1v10h-1zM156 682h1v11h-1zM160 682h1v11h-1zM164 682h1v9h-1zM168 682h1v8h-1zM172 682h1v8h-1zM176 682h1v8h-1zM180 682h1v9h-1zM184 682h1v10h-1zM188 682h1v13h-1zM192 682h1v16h-1zM196 682h1v18h-1zM200 682h1v19h-1zM204 682h1v18h-1zM208 682h1v17h-1zM212 682h1v15h-1zM216 682h1v15h-1zM220 682h1v13h-1zM224 682h1v12h-1zM228 682h1v12h-1zM232 682h1v10h-1zM236 682h1v8h-1zM240 682h1v7h-1zM244 682h1v8h-1zM248 682h1v7h-1zM252 682h1v6h-1zM256 682h1v6h-1zM260 682h1v6h-1zM264 682h1v7h-1zM268 682h1v8h-1zM272 682h1v7h-1zM276 682h1v9h-1zM280 682h1v11h-1zM284 682h1v12h-1zM288 682h1v13h-1zM292 682h1v15h-1zM296 682h1v15h-1zM300 682h1v14h-1zM304 682h1v12h-1zM308 682h1v11h-1zM312 682h1v10h-1zM316 682h1v9h-1zM320 682h1v9h-1zM324 682h1v8h-1zM328 682h1v6h-1zM332 682h1v3h-1zM336 682h1v2h-1zM340 682h1v1h-1zM344 681h1v1h-1zM348 679h1v3h-1zM352 676h1v6h-1zM356 672h1v10h-1zM360 669h1v13h-1zM364 668h1v14h-1zM368 667h1v15h-1zM372 667h1v15h-1zM376 668h1v14h-1zM380 670h1v12h-1zM384 671h1v11h-1zM388 672h1v10h-1zM392 672h1v10h-1zM396 671h1v11h-1zM400 670h1v12h-1zM404 669h1v13h-1zM408 669h1v13h-1zM412 669h1v13h-1zM416 671h1v11h-1zM420 674h1v8h-1zM424 677h1v5h-1zM428 680h1v2h-1zM432 682h1v1h-1zM436 682h1v1h-1zM440 682h1v3h-1zM444 682h1v5h-1zM448 682h1v6h-1zM452 682h1v5h-1zM456 682h1v5h-1zM460 682h1v3h-1zM464 682h1v2h-1zM468 682h1v2h-1zM472 682h1v1h-1zM476 682h1v2h-1zM480 682h1v3h-1zM484 682h1v4h-1zM488 682h1v5h-1zM492 682h1v6h-1zM496 682h1v6h-1zM500 682h1v6h-1zM504 682h1v6h-1zM508 682h1v4h-1zM512 682h1v2h-1zM516 682h1v1h-1zM520 681h1v1h-1zM524 682h1v1h-1zM528 682h1v1h-1zM532 681h1v1h-1zM536 680h1v2h-1zM540 679h1v3h-1zM544 678h1v4h-1zM548 676h1v6h-1zM552 675h1v7h-1zM556 674h1v8h-1zM560 673h1v9h-1zM564 673h1v9h-1zM568 673h1v9h-1zM572 675h1v7h-1zM576 677h1v5h-1zM580 677h1v5h-1zM584 678h1v4h-1zM588 679h1v3h-1zM592 679h1v3h-1zM596 677h1v5h-1zM600 675h1v7h-1zM604 673h1v9h-1zM608 670h1v12h-1zM612 669h1v13h-1zM616 668h1v14h-1zM620 669h1v13h-1zM624 670h1v12h-1zM628 670h1v12h-1zM632 672h1v10h-1zM636 674h1v8h-1zM640 676h1v6h-1zM644 678h1v4h-1zM648 679h1v3h-1zM652 679h1v3h-1zM656 680h1v2h-1zM660 680h1v2h-1zM664 680h1v2h-1zM668 681h1v1h-1zM672 682h1v1h-1zM676 682h1v2h-1zM680 682h1v3h-1zM684 682h1v4h-1zM688 682h1v5h-1zM692 682h1v7h-1zM696 682h1v9h-1zM700 682h1v10h-1zM704 682h1v11h-1zM708 682h1v12h-1zM712 682h1v12h-1zM716 682h1v10h-1zM720 682h1v8h-1zM724 682h1v8h-1zM728 682h1v8h-1zM732 682h1v9h-1zM736 682h1v10h-1zM740 682h1v12h-1zM744 682h1v13h-1zM748 682h1v15h-1zM752 682h1v17h-1zM756 682h1v18h-1zM760 682h1v21h-1zM764 682h1v23h-1zM768 682h1v24h-1zM772 682h1v25h-1zM776 682h1v26h-1zM780 682h1v27h-1zM784 682h1v27h-1zM788 682h1v26h-1zM792 682h1v24h-1zM796 682h1v22h-1zM800 682h1v21h-1zM804 682h1v19h-1zM808 682h1v14h-1zM812 682h1v10h-1zM816 682h1v5h-1zM820 680h1v2h-1zM824 672h1v10h-1zM828 668h1v14h-1zM832 663h1v19h-1zM836 656h1v26h-1zM840 650h1v32h-1zM844 642h1v40h-1zM848 640h1v42h-1zM852 640h1v42h-1zM856 647h1v35h-1zM860 653h1v29h-1zM864 659h1v23h-1zM868 661h1v21h-1zM872 668h1v14h-1zM876 679h1v3h-1zM880 682h1v9h-1zM884 682h1v19h-1zM888 682h1v27h-1zM892 682h1v30h-1zM896 682h1v31h-1zM900 682h1v30h-1zM904 682h1v23h-1zM908 682h1v16h-1zM912 682h1v9h-1zM916 682h1v6h-1zM920 682h1v4h-1zM924 682h1v5h-1zM928 682h1v8h-1zM932 682h1v12h-1zM936 682h1v15h-1zM940 682h1v17h-1zM944 682h1v16h-1zM948 682h1v15h-1zM952 682h1v13h-1zM956 682h1v10h-1zM960 682h1v9h-1zM964 682h1v8h-1zM968 682h1v5h-1zM972 682h1v6h-1zM976 682h1v8h-1zM980 682h1v8h-1zM984 682h1v8h-1zM988 682h1v8h-1zM992 682h1v9h-1zM996 682h1v10h-1zM1000 682h1v11h-1zM1004 682h1v12h-1zM1008 682h1v13h-1zM1012 682h1v13h-1zM1016 682h1v12h-1zM1020 682h1v11h-1zM1024 682h1v7h-1zM1028 682h1v2h-1zM1032 681h1v1h-1zM1036 681h1v1h-1zM1040 682h1v1h-1zM1044 682h1v3h-1zM1048 682h1v5h-1zM1052 682h1v5h-1zM1056 682h1v5h-1zM1060 682h1v6h-1zM1064 682h1v5h-1zM1068 682h1v6h-1zM1072 682h1v7h-1zM1076 682h1v7h-1zM1080 682h1v8h-1zM1084 682h1v5h-1zM1088 682h1v2h-1zM1092 680h1v2h-1zM1096 677h1v5h-1zM1100 678h1v4h-1zM1104 678h1v4h-1zM1108 678h1v4h-1zM1112 676h1v6h-1zM1116 674h1v8h-1zM1120 670h1v12h-1zM1124 665h1v17h-1zM1128 662h1v20h-1zM1132 659h1v23h-1zM1136 655h1v27h-1zM1140 650h1v32h-1zM1144 644h1v38h-1zM1148 641h1v41h-1zM1152 639h1v43h-1zM1156 637h1v45h-1zM1160 635h1v47h-1zM1164 634h1v48h-1zM1168 632h1v50h-1zM1172 636h1v46h-1zM1176 640h1v42h-1zM1180 642h1v40h-1zM1184 645h1v37h-1zM1188 649h1v33h-1zM1192 652h1v30h-1zM1196 656h1v26h-1zM1200 660h1v22h-1zM1204 660h1v22h-1zM1208 659h1v23h-1zM1212 660h1v22h-1zM1216 663h1v19h-1zM1220 665h1v17h-1zM1224 667h1v15h-1zM1228 668h1v14h-1zM1232 669h1v13h-1zM1236 669h1v13h-1zM1240 670h1v12h-1zM1244 671h1v11h-1zM1248 672h1v10h-1zM1252 670h1v12h-1zM1256 670h1v12h-1zM1260 668h1v14h-1zM1264 668h1v14h-1zM1268 669h1v13h-1z"/>
<path fill="#ff0000" d="M1170 638h3v1h-3zM418 670h2v1h-2zM423 670h3v1h-3zM627 670h3v1h-3zM633 670h3v1h-3zM639 670h3v1h-3zM358 679h2v1h-2zM670 679h2v1h-2zM675 679h3v1h-3zM33 685h3v1h-3zM346 685h2v1h-2zM465 685h3v1h-3zM471 685h3v1h-3zM495 685h3v1h-3zM519 685h3v1h-3zM1050 685h3v1h-3zM1068 685h2v1h-2zM39 686h3v1h-3zM45 686h3v1h-3zM51 686h3v1h-3zM135 686h3v1h-3zM142 686h2v1h-2zM147 686h3v1h-3zM502 686h2v1h-2zM507 686h3v1h-3zM513 686h3v1h-3zM699 686h3v1h-3zM1044 686h2v1h-2zM1092 686h2v1h-2zM87 695h3v1h-3zM106 695h2v1h-2zM202 695h2v1h-2zM759 695h2v1h-2zM82 694h2v1h-2zM111 694h3v1h-3zM238 694h2v1h-2zM303 694h3v1h-3zM309 694h3v1h-3zM315 694h3v1h-3zM754 694h2v1h-2zM930 694h3v1h-3zM954 694h3v1h-3zM960 694h3v1h-3zM966 694h3v1h-3zM15 680h3v1h-3zM447 680h2v1h-2zM543 680h3v1h-3zM1110 680h3v1h-3zM75 692h3v1h-3zM118 692h2v1h-2zM190 692h2v1h-2zM327 692h3v1h-3zM747 692h3v1h-3zM936 692h3v1h-3zM942 692h3v1h-3zM948 692h2v1h-2zM1014 692h3v1h-3zM1020 692h3v1h-3zM1026 692h3v1h-3zM435 674h2v1h-2zM573 674h3v1h-3zM579 674h3v1h-3zM585 674h3v1h-3zM610 674h2v1h-2zM1122 674h3v1h-3zM27 684h3v1h-3zM459 684h3v1h-3zM478 684h2v1h-2zM483 684h3v1h-3zM489 684h3v1h-3zM526 684h2v1h-2zM694 684h2v1h-2zM1056 684h3v1h-3zM1062 684h3v1h-3zM1098 684h3v1h-3zM375 671h3v1h-3zM622 671h2v1h-2zM70 691h2v1h-2zM171 691h3v1h-3zM177 691h3v1h-3zM183 691h3v1h-3zM250 691h2v1h-2zM291 691h3v1h-3zM718 691h2v1h-2zM723 691h3v1h-3zM729 691h3v1h-3zM735 691h3v1h-3zM741 691h3v1h-3zM978 691h3v1h-3zM1008 691h2v1h-2zM130 687h2v1h-2zM1074 687h3v1h-3zM1080 687h3v1h-3zM1086 687h3v1h-3zM790 707h2v1h-2zM795 707h3v1h-3zM195 693h3v1h-3zM243 693h3v1h-3zM298 693h2v1h-2zM322 693h2v1h-2zM1248 667h2v1h-2zM1207 651h2v1h-2zM63 689h3v1h-3zM159 689h3v1h-3zM279 689h3v1h-3zM334 689h2v1h-2zM990 689h3v1h-3zM996 689h3v1h-3zM1141 662h2v1h-2zM1230 662h3v1h-3zM58 688h2v1h-2zM154 688h2v1h-2zM262 688h2v1h-2zM267 688h3v1h-3zM273 688h3v1h-3zM339 688h2v1h-2zM706 688h2v1h-2zM1038 688h3v1h-3zM93 696h3v1h-3zM99 696h3v1h-3zM207 696h3v1h-3zM231 696h3v1h-3zM567 675h3v1h-3zM591 675h3v1h-3zM603 675h3v1h-3zM658 675h2v1h-2zM864 649h3v1h-3zM213 697h3v1h-3zM226 697h2v1h-2zM925 697h2v1h-2zM10 678h2v1h-2zM442 678h2v1h-2zM550 678h2v1h-2zM555 678h3v1h-3zM22 683h2v1h-2zM351 683h2v1h-2zM454 683h2v1h-2zM531 683h3v1h-3zM387 668h3v1h-3zM393 668h3v1h-3zM123 690h2v1h-2zM165 690h3v1h-3zM255 690h3v1h-3zM286 690h2v1h-2zM711 690h3v1h-3zM984 690h2v1h-2zM1002 690h3v1h-3zM1032 690h2v1h-2zM363 676h2v1h-2zM562 676h2v1h-2zM598 676h2v1h-2zM663 676h2v1h-2zM858 650h3v1h-3zM870 650h2v1h-2zM382 669h2v1h-2zM399 669h3v1h-3zM405 669h3v1h-3zM411 669h3v1h-3zM1254 669h3v1h-3zM1260 669h3v1h-3zM1266 669h2v1h-2zM615 673h3v1h-3zM651 673h3v1h-3zM538 681h2v1h-2zM682 681h2v1h-2zM783 705h3v1h-3zM807 705h2v1h-2zM771 701h3v1h-3zM814 701h2v1h-2zM370 672h2v1h-2zM430 672h2v1h-2zM646 672h2v1h-2zM1242 666h3v1h-3zM219 698h3v1h-3zM1236 663h2v1h-2zM687 682h3v1h-3zM778 704h2v1h-2zM912 704h2v1h-2zM1176 637h2v1h-2zM1182 637h3v1h-3zM1194 642h2v1h-2zM1218 657h3v1h-3zM802 706h2v1h-2zM907 702h2v1h-2zM918 702h2v1h-2zM1201 647h2v1h-2zM766 699h2v1h-2zM1165 641h2v1h-2zM381 670h1v1h-1zM1212 653h1v1h-1zM924 698h1v1h-1zM693 683h1v1h-1zM5 675h1v1h-1zM345 686h1v1h-1zM657 674h1v1h-1zM1118 676h1v1h-1zM537 682h1v1h-1zM1147 657h1v1h-1zM621 672h1v1h-1zM844 665h1v2h-1zM847 661h1v1h-1zM705 687h1v1h-1zM777 703h1v1h-1zM1116 678h1v1h-1zM117 693h1v1h-1zM1135 667h1v1h-1zM681 680h1v1h-1zM1140 663h1v1h-1zM369 673h1v1h-1zM880 660h1v2h-1zM1214 655h1v1h-1zM501 685h1v1h-1zM449 681h1v1h-1zM1130 670h1v1h-1zM887 673h1v2h-1zM761 696h1v1h-1zM525 685h1v1h-1zM1225 660h1v1h-1zM3 673h1v1h-1zM549 679h1v1h-1zM609 675h1v1h-1zM717 690h1v1h-1zM437 675h1v1h-1zM9 677h1v1h-1zM789 706h1v1h-1zM429 671h1v1h-1zM1129 671h1v1h-1zM105 696h1v1h-1zM839 673h1v1h-1zM840 671h1v2h-1zM1010 692h1v1h-1zM297 692h1v1h-1zM1105 682h1v1h-1zM852 655h1v1h-1zM1106 681h1v1h-1zM201 694h1v1h-1zM914 703h1v1h-1zM1226 661h1v1h-1zM4 674h1v1h-1zM872 651h1v1h-1zM901 696h1v2h-1zM848 660h1v1h-1zM1104 683h1v1h-1zM1213 654h1v1h-1zM813 702h1v1h-1zM261 689h1v1h-1zM819 697h1v1h-1zM1154 650h1v1h-1zM1159 646h1v1h-1zM765 698h1v1h-1zM1160 645h1v1h-1zM441 677h1v1h-1zM809 704h1v1h-1zM1158 647h1v1h-1zM893 684h1v2h-1zM1153 651h1v1h-1zM1238 664h1v1h-1zM365 675h1v1h-1zM836 677h1v2h-1zM57 687h1v1h-1zM665 677h1v1h-1zM894 686h1v1h-1zM357 680h1v1h-1zM1224 659h1v1h-1zM897 691h1v1h-1zM832 683h1v1h-1zM1200 646h1v1h-1zM249 692h1v1h-1zM886 672h1v1h-1zM1250 668h1v1h-1zM890 679h1v1h-1zM561 677h1v1h-1zM950 693h1v1h-1zM1188 638h1v1h-1zM986 689h1v1h-1zM891 680h1v1h-1zM1128 672h1v1h-1zM417 669h1v1h-1zM1189 639h1v1h-1zM801 707h1v1h-1zM876 654h1v2h-1zM884 667h1v2h-1zM153 687h1v1h-1zM69 690h1v1h-1zM827 689h1v1h-1zM125 689h1v1h-1zM877 656h1v1h-1zM237 695h1v1h-1zM453 682h1v1h-1zM597 675h1v1h-1zM285 689h1v1h-1zM906 701h1v1h-1zM825 691h1v1h-1zM826 690h1v1h-1zM477 685h1v1h-1zM189 691h1v1h-1zM321 694h1v1h-1zM1164 642h1v1h-1zM896 690h1v1h-1zM889 678h1v1h-1zM1152 652h1v1h-1zM974 691h1v1h-1zM645 671h1v1h-1zM854 653h1v1h-1zM1206 650h1v1h-1zM21 682h1v1h-1zM835 679h1v1h-1zM225 698h1v1h-1zM353 682h1v1h-1zM898 692h1v1h-1zM1178 636h1v1h-1zM830 685h1v1h-1zM141 685h1v1h-1zM831 684h1v1h-1zM843 667h1v1h-1zM1034 689h1v1h-1zM902 698h1v1h-1zM1148 656h1v1h-1zM1094 685h1v1h-1zM883 666h1v1h-1zM1190 640h1v1h-1zM1117 677h1v1h-1zM1146 658h1v1h-1zM333 690h1v1h-1zM669 678h1v1h-1zM1136 666h1v1h-1zM753 693h1v1h-1zM1196 643h1v1h-1zM881 662h1v1h-1zM1134 668h1v1h-1zM129 688h1v1h-1zM341 687h1v1h-1zM81 693h1v1h-1zM1070 686h1v1h-1zM853 654h1v1h-1zM920 701h1v1h-1zM849 659h1v1h-1zM972 693h1v1h-1zM973 692h1v1h-1zM820 696h1v1h-1zM821 695h1v1h-1zM1046 685h1v1h-1z"/>
</g>
<path d="M3 24H1597V531H3Z M4 25V530H1596V25Z" fill="#000" fill-rule="evenodd"/>
<path d="M3 532H1597V625H3Z M4 533V624H1596V533Z" fill="#000" fill-rule="evenodd"/>
<path d="M3 626H1597V719H3Z M4 627V718H1596V627Z" fill="#000" fill-rule="evenodd"/>
<rect x="4" y="97" width="1592" height="2" fill="#ff0000"/>
<rect x="4" y="96" width="4" height="4" fill="#fff" stroke="#ff0000" stroke-width="2"/>
<rect x="1591" y="96" width="4" height="4" fill="#fff" stroke="#ff0000" stroke-width="2"/>
<rect x="4" y="153" width="1592" height="2" fill="#ff0000"/>
<rect x="4" y="209" width="1592" height="2" fill="#00ff00"/>
<rect x="4" y="208" width="4" height="4" fill="#fff" stroke="#00ff00" stroke-width="2"/>
<rect x="1591" y="208" width="4" height="4" fill="#fff" stroke="#00ff00" stroke-width="2"/>
<rect x="4" y="263" width="1592" height="2" fill="#0000ff"/>
<rect x="4" y="262" width="4" height="4" fill="#fff" stroke="#0000ff" stroke-width="2"/>
<rect x="1591" y="262" width="4" height="4" fill="#fff" stroke="#0000ff" stroke-width="2"/>
<rect x="4" y="318" width="1592" height="2" fill="#0000ff"/>
<rect x="4" y="317" width="4" height="4" fill="#fff" stroke="#0000ff" stroke-width="2"/>
<rect x="1591" y="317" width="4" height="4" fill="#fff" stroke="#0000ff" stroke-width="2"/>
<rect x="1597" y="32" width="2" height="1" fill="#000"/>
<rect x="1597" y="65" width="2" height="1" fill="#000"/>
<rect x="1597" y="98" width="2" height="1" fill="#000"/>
<rect x="1597" y="131" width="2" height="1" fill="#000"/>
<rect x="1597" y="164" width="2" height="1" fill="#000"/>
<rect x="1597" y="197" width="2" height="1" fill="#000"/>
<rect x="1597" y="230" width="2" height="1" fill="#000"/>
<rect x="1597" y="263" width="2" height="1" fill="#000"/>
<rect x="1597" y="296" width="2" height="1" fill="#000"/>
<rect x="1597" y="329" width="2" height="1" fill="#000"/>
<rect x="1597" y="362" width="2" height="1" fill="#000"/>
<rect x="1597" y="395" width="2" height="1" fill="#000"/>
<rect x="1597" y="428" width="2" height="1" fill="#000"/>
<rect x="1597" y="461" width="2" height="1" fill="#000"/>
<rect x="1597" y="494" width="2" height="1" fill="#000"/>
<rect x="1597" y="527" width="2" height="1" fill="#000"/>
<rect x="1597" y="560" width="2" height="1" fill="#000"/>
<rect x="1597" y="596" width="2" height="1" fill="#000"/>
<rect x="1597" y="682" width="2" height="1" fill="#000"/>
<rect x="4" y="719" width="1" height="3" fill="#000"/>
<rect x="68" y="719" width="1" height="3" fill="#000"/>
<rect x="132" y="719" width="1" height="3" fill="#000"/>
<rect x="196" y="719" width="1" height="3" fill="#000"/>
<rect x="260" y="719" width="1" height="3" fill="#000"/>
<rect x="324" y="719" width="1" height="3" fill="#000"/>
<rect x="388" y="719" width="1" height="3" fill="#000"/>
<rect x="452" y="719" width="1" height="3" fill="#000"/>
<rect x="516" y="719" width="1" height="3" fill="#000"/>
<rect x="580" y="719" width="1" height="3" fill="#000"/>
<rect x="644" y="719" width="1" height="3" fill="#000"/>
<rect x="708" y="719" width="1" height="3" fill="#000"/>
<rect x="772" y="719" width="1" height="3" fill="#000"/>
<rect x="836" y="719" width="1" height="3" fill="#000"/>
<rect x="900" y="719" width="1" height="3" fill="#000"/>
<rect x="964" y="719" width="1" height="3" fill="#000"/>
<rect x="1028" y="719" width="1" height="3" fill="#000"/>
<rect x="1092" y="719" width="1" height="3" fill="#000"/>
<rect x="1156" y="719" width="1" height="3" fill="#000"/>
<rect x="1220" y="719" width="1" height="3" fill="#000"/>
<path d="M6.8 31.2h7l-3.5 4z" fill="#000"/>
</svg>
<div class="ct" style="left:19px;top:26px">EURUSD,Daily<span style="margin-left:7px">1.12972 1.13034 1.12794 1.12838</span></div>
<div class="ct" style="left:8px;top:535px">RSI(14) 56.2826</div>
<div class="ct" style="left:8px;top:629px">MACD(12,26,9) 0.003152 0.002976</div>
<div class="ax" style="top:25px">1.15265</div><div class="ax" style="top:58px">1.14650</div><div class="ax" style="top:124px">1.13450</div><div class="ax" style="top:190px">1.12235</div><div class="ax" style="top:223px">1.11635</div><div class="ax" style="top:289px">1.10435</div><div class="ax" style="top:322px">1.09820</div><div class="ax" style="top:355px">1.09220</div><div class="ax" style="top:388px">1.08620</div><div class="ax" style="top:421px">1.08020</div><div class="ax" style="top:454px">1.07405</div><div class="ax" style="top:487px">1.06805</div><div class="ax" style="top:520px">1.06205</div><div class="bx" style="top:92px;background:#ff0000;color:#fff">1.14047</div><div class="bx" style="top:148px;background:#ff0000;color:#fff">1.13034</div><div class="bx" style="top:159px;background:#000;color:#fff">1.12838</div><div class="bx" style="top:204px;background:#00ff00;color:#fff">1.12004</div><div class="bx" style="top:258px;background:#0000ff;color:#fff">1.11009</div><div class="bx" style="top:313px;background:#0000ff;color:#fff">1.10008</div><div class="ax" style="top:533px;left:1600px">100</div><div class="ax" style="top:554px;left:1600px">70</div><div class="ax" style="top:590px;left:1600px">30</div><div class="ax" style="top:611px;left:1600px">0</div><div class="ax" style="top:627px;left:1600px">0.013121</div><div class="ax" style="top:675px;left:1600px">0.00</div><div class="ax" style="top:705px;left:1600px">-0.00893</div><div class="dt" style="left:3px">8 Jul 2019</div><div class="dt" style="left:67px">26 Jul 2019</div><div class="dt" style="left:131px">14 Aug 2019</div><div class="dt" style="left:195px">2 Sep 2019</div><div class="dt" style="left:259px">20 Sep 2019</div><div class="dt" style="left:323px">9 Oct 2019</div><div class="dt" style="left:387px">28 Oct 2019</div><div class="dt" style="left:451px">15 Nov 2019</div><div class="dt" style="left:515px">4 Dec 2019</div><div class="dt" style="left:579px">23 Dec 2019</div><div class="dt" style="left:643px">10 Jan 2020</div><div class="dt" style="left:707px">29 Jan 2020</div><div class="dt" style="left:771px">17 Feb 2020</div><div class="dt" style="left:835px">6 Mar 2020</div><div class="dt" style="left:899px">25 Mar 2020</div><div class="dt" style="left:963px">13 Apr 2020</div><div class="dt" style="left:1027px">1 May 2020</div><div class="dt" style="left:1091px">20 May 2020</div><div class="dt" style="left:1155px">8 Jun 2020</div><div class="dt" style="left:1219px">26 Jun 2020</div>
<div id="tabline"></div>
<div id="tabs"><div id="atab"><span>EURUSD,Daily</span></div><span class="tb" style="left:119px">USDCHF,Daily</span><span class="tb" style="left:220px">AUDUSD,Daily</span><span class="tb" style="left:323.7px">USDCAD,Daily</span><span class="tb" style="left:427px">USDCNH,Daily</span><span class="tb" style="left:532.3px">EURUSD,M15</span><span class="tb" style="left:632px">GBPUSD,M30</span><span class="tb" style="left:731.7px">XAUUSD,Daily</span><span class="tb" style="left:836.3px">HK50,H1</span><span class="tb" style="left:908.3px">UK100,H1</span><span class="tb" style="left:988.3px">UK100,H1</span><span class="tb" style="left:1068px">GER30,H1</span><span class="tb" style="left:1147.3px">FRA40,H1</span><span class="tb" style="left:1223.3px">USOil,Daily</span><span class="tb" style="left:1307.2px">USDJPY,H1</span><span class="tb" style="left:1392.5px">DJ30,M15</span><i class="sp" style="left:209px"></i><i class="sp" style="left:313px"></i><i class="sp" style="left:417px"></i><i class="sp" style="left:522px"></i><i class="sp" style="left:621px"></i><i class="sp" style="left:721px"></i><i class="sp" style="left:825px"></i><i class="sp" style="left:898px"></i><i class="sp" style="left:978px"></i><i class="sp" style="left:1057px"></i><i class="sp" style="left:1137px"></i><i class="sp" style="left:1213px"></i><i class="sp" style="left:1298px"></i><i class="sp" style="left:1381px"></i><i class="sp" style="left:1462px"></i>
<i class="ar" style="left:1609px;border-right-color:#909090"></i><i class="ar" style="left:1631px;border-left-color:#909090"></i></div>
<div id="bot"></div><div id="botline"></div><div id="lb2"></div>
</body></html>
